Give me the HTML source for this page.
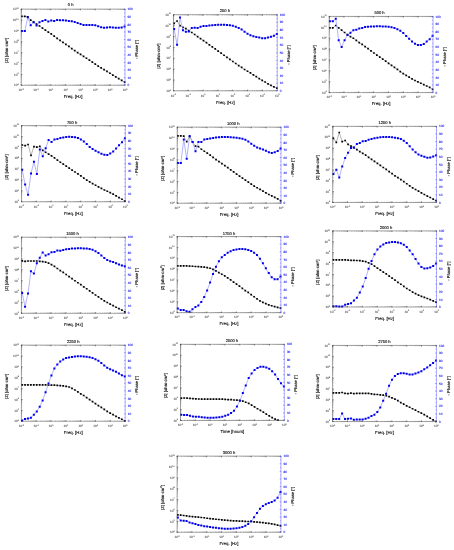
<!DOCTYPE html><html><head><meta charset="utf-8"><style>html,body{margin:0;padding:0;background:#fff;}svg{display:block;text-rendering:geometricPrecision;will-change:transform;}#w{width:454px;height:550px;overflow:hidden;}</style></head><body><div id="w"><svg width="454" height="550" viewBox="0 0 454 550" font-family='"Liberation Sans", sans-serif'>
<rect width="454" height="550" fill="#fff"/>
<polyline fill="none" stroke="#777" stroke-width="0.55" points="21.9,16.3 24.83,16.34 27.77,16.89 30.7,20.17 33.64,22.06 36.57,24.08 39.51,25.98 42.44,28.06 45.37,30.08 48.31,32.07 51.24,33.96 54.18,36.18 57.11,38.38 60.05,40.36 62.98,42.42 65.91,44.44 68.85,46.46 71.78,48.61 74.72,50.64 77.65,52.72 80.59,54.37 83.52,56.28 86.45,58.23 89.39,60.18 92.32,62.14 95.26,64.09 98.19,66.06 101.13,67.93 104.06,69.7 106.99,71.46 109.93,73.27 112.86,75.18 115.8,76.79 118.73,78.66 121.67,80.35 124.6,82.14"/>
<path d="M21.05 15.45h1.7v1.7h-1.7zM23.98 15.49h1.7v1.7h-1.7zM26.92 16.04h1.7v1.7h-1.7zM29.85 19.32h1.7v1.7h-1.7zM32.79 21.21h1.7v1.7h-1.7zM35.72 23.23h1.7v1.7h-1.7zM38.66 25.13h1.7v1.7h-1.7zM41.59 27.21h1.7v1.7h-1.7zM44.52 29.23h1.7v1.7h-1.7zM47.46 31.22h1.7v1.7h-1.7zM50.39 33.11h1.7v1.7h-1.7zM53.33 35.33h1.7v1.7h-1.7zM56.26 37.53h1.7v1.7h-1.7zM59.2 39.51h1.7v1.7h-1.7zM62.13 41.57h1.7v1.7h-1.7zM65.06 43.59h1.7v1.7h-1.7zM68 45.61h1.7v1.7h-1.7zM70.93 47.76h1.7v1.7h-1.7zM73.87 49.79h1.7v1.7h-1.7zM76.8 51.87h1.7v1.7h-1.7zM79.74 53.52h1.7v1.7h-1.7zM82.67 55.43h1.7v1.7h-1.7zM85.6 57.38h1.7v1.7h-1.7zM88.54 59.33h1.7v1.7h-1.7zM91.47 61.29h1.7v1.7h-1.7zM94.41 63.24h1.7v1.7h-1.7zM97.34 65.21h1.7v1.7h-1.7zM100.28 67.08h1.7v1.7h-1.7zM103.21 68.85h1.7v1.7h-1.7zM106.14 70.61h1.7v1.7h-1.7zM109.08 72.42h1.7v1.7h-1.7zM112.01 74.33h1.7v1.7h-1.7zM114.95 75.94h1.7v1.7h-1.7zM117.88 77.81h1.7v1.7h-1.7zM120.82 79.5h1.7v1.7h-1.7zM123.75 81.29h1.7v1.7h-1.7z" fill="#000"/>
<polyline fill="none" stroke="#8c8cff" stroke-width="0.65" points="21.9,31.1 24.83,31.1 27.77,17.3 30.7,25.2 33.64,22.2 36.57,25.4 39.51,22.3 42.44,21 45.37,20.1 48.31,21.5 51.24,20.4 54.18,21 57.11,20.1 60.05,20.3 62.98,20.3 65.91,20.49 68.85,20.99 71.78,21.29 74.72,21.98 77.65,23.01 80.59,23.88 83.52,24.97 86.45,25 89.39,25 92.32,25 95.26,25.37 98.19,26.24 101.13,27.3 104.06,27.77 106.99,27.61 109.93,27.24 112.86,27.38 115.8,27.77 118.73,27.8 121.67,27.43 124.6,26.6"/>
<path d="M20.9 30.1h2v2h-2zM23.83 30.1h2v2h-2zM26.77 16.3h2v2h-2zM29.7 24.2h2v2h-2zM32.64 21.2h2v2h-2zM35.57 24.4h2v2h-2zM38.51 21.3h2v2h-2zM41.44 20h2v2h-2zM44.37 19.1h2v2h-2zM47.31 20.5h2v2h-2zM50.24 19.4h2v2h-2zM53.18 20h2v2h-2zM56.11 19.1h2v2h-2zM59.05 19.3h2v2h-2zM61.98 19.3h2v2h-2zM64.91 19.49h2v2h-2zM67.85 19.99h2v2h-2zM70.78 20.29h2v2h-2zM73.72 20.98h2v2h-2zM76.65 22.01h2v2h-2zM79.59 22.88h2v2h-2zM82.52 23.97h2v2h-2zM85.45 24h2v2h-2zM88.39 24h2v2h-2zM91.32 24h2v2h-2zM94.26 24.37h2v2h-2zM97.19 25.24h2v2h-2zM100.13 26.3h2v2h-2zM103.06 26.77h2v2h-2zM105.99 26.61h2v2h-2zM108.93 26.24h2v2h-2zM111.86 26.38h2v2h-2zM114.8 26.77h2v2h-2zM117.73 26.8h2v2h-2zM120.67 26.43h2v2h-2zM123.6 25.6h2v2h-2z" fill="#0000ee"/>
<path d="M21.2 85.28V9.12H125M21.2 85.28H125" fill="none" stroke="#4a4a4a" stroke-width="0.5"/>
<path d="M125 9.12V85.28" fill="none" stroke="#5555ff" stroke-width="0.5"/>
<path d="M25.66 85.28v-0.7M25.66 9.12v0.7M28.28 85.28v-0.7M28.28 9.12v0.7M30.13 85.28v-0.7M30.13 9.12v0.7M31.56 85.28v-0.7M31.56 9.12v0.7M32.74 85.28v-0.7M32.74 9.12v0.7M33.73 85.28v-0.7M33.73 9.12v0.7M34.59 85.28v-0.7M34.59 9.12v0.7M35.35 85.28v-0.7M35.35 9.12v0.7M40.49 85.28v-0.7M40.49 9.12v0.7M43.1 85.28v-0.7M43.1 9.12v0.7M44.96 85.28v-0.7M44.96 9.12v0.7M46.39 85.28v-0.7M46.39 9.12v0.7M47.57 85.28v-0.7M47.57 9.12v0.7M48.56 85.28v-0.7M48.56 9.12v0.7M49.42 85.28v-0.7M49.42 9.12v0.7M50.18 85.28v-0.7M50.18 9.12v0.7M55.32 85.28v-0.7M55.32 9.12v0.7M57.93 85.28v-0.7M57.93 9.12v0.7M59.78 85.28v-0.7M59.78 9.12v0.7M61.22 85.28v-0.7M61.22 9.12v0.7M62.4 85.28v-0.7M62.4 9.12v0.7M63.39 85.28v-0.7M63.39 9.12v0.7M64.25 85.28v-0.7M64.25 9.12v0.7M65.01 85.28v-0.7M65.01 9.12v0.7M70.15 85.28v-0.7M70.15 9.12v0.7M72.76 85.28v-0.7M72.76 9.12v0.7M74.61 85.28v-0.7M74.61 9.12v0.7M76.05 85.28v-0.7M76.05 9.12v0.7M77.22 85.28v-0.7M77.22 9.12v0.7M78.22 85.28v-0.7M78.22 9.12v0.7M79.08 85.28v-0.7M79.08 9.12v0.7M79.84 85.28v-0.7M79.84 9.12v0.7M84.98 85.28v-0.7M84.98 9.12v0.7M87.59 85.28v-0.7M87.59 9.12v0.7M89.44 85.28v-0.7M89.44 9.12v0.7M90.88 85.28v-0.7M90.88 9.12v0.7M92.05 85.28v-0.7M92.05 9.12v0.7M93.05 85.28v-0.7M93.05 9.12v0.7M93.91 85.28v-0.7M93.91 9.12v0.7M94.66 85.28v-0.7M94.66 9.12v0.7M99.81 85.28v-0.7M99.81 9.12v0.7M102.42 85.28v-0.7M102.42 9.12v0.7M104.27 85.28v-0.7M104.27 9.12v0.7M105.71 85.28v-0.7M105.71 9.12v0.7M106.88 85.28v-0.7M106.88 9.12v0.7M107.87 85.28v-0.7M107.87 9.12v0.7M108.73 85.28v-0.7M108.73 9.12v0.7M109.49 85.28v-0.7M109.49 9.12v0.7M114.64 85.28v-0.7M114.64 9.12v0.7M117.25 85.28v-0.7M117.25 9.12v0.7M119.1 85.28v-0.7M119.1 9.12v0.7M120.54 85.28v-0.7M120.54 9.12v0.7M121.71 85.28v-0.7M121.71 9.12v0.7M122.7 85.28v-0.7M122.7 9.12v0.7M123.56 85.28v-0.7M123.56 9.12v0.7M124.32 85.28v-0.7M124.32 9.12v0.7M21.2 16.73h0.7M21.2 14.81h0.7M21.2 13.45h0.7M21.2 12.4h0.7M21.2 11.54h0.7M21.2 10.81h0.7M21.2 10.18h0.7M21.2 9.62h0.7M21.2 27.61h0.7M21.2 25.69h0.7M21.2 24.33h0.7M21.2 23.28h0.7M21.2 22.42h0.7M21.2 21.69h0.7M21.2 21.06h0.7M21.2 20.5h0.7M21.2 38.49h0.7M21.2 36.57h0.7M21.2 35.21h0.7M21.2 34.16h0.7M21.2 33.3h0.7M21.2 32.57h0.7M21.2 31.94h0.7M21.2 31.38h0.7M21.2 49.36h0.7M21.2 47.45h0.7M21.2 46.09h0.7M21.2 45.04h0.7M21.2 44.17h0.7M21.2 43.45h0.7M21.2 42.81h0.7M21.2 42.26h0.7M21.2 60.24h0.7M21.2 58.33h0.7M21.2 56.97h0.7M21.2 55.91h0.7M21.2 55.05h0.7M21.2 54.32h0.7M21.2 53.69h0.7M21.2 53.14h0.7M21.2 71.12h0.7M21.2 69.21h0.7M21.2 67.85h0.7M21.2 66.79h0.7M21.2 65.93h0.7M21.2 65.2h0.7M21.2 64.57h0.7M21.2 64.02h0.7M21.2 82h0.7M21.2 80.08h0.7M21.2 78.73h0.7M21.2 77.67h0.7M21.2 76.81h0.7M21.2 76.08h0.7M21.2 75.45h0.7M21.2 74.89h0.7" fill="none" stroke="#444" stroke-width="0.35"/>
<path d="M21.2 85.58v-1.5M21.2 8.82v1.5M36.03 85.58v-1.5M36.03 8.82v1.5M50.86 85.58v-1.5M50.86 8.82v1.5M65.69 85.58v-1.5M65.69 8.82v1.5M80.51 85.58v-1.5M80.51 8.82v1.5M95.34 85.58v-1.5M95.34 8.82v1.5M110.17 85.58v-1.5M110.17 8.82v1.5M125 85.58v-1.5M125 8.82v1.5M20.9 9.12h1.5M20.9 20h1.5M20.9 30.88h1.5M20.9 41.76h1.5M20.9 52.64h1.5M20.9 63.52h1.5M20.9 74.4h1.5M20.9 85.28h1.5" fill="none" stroke="#333" stroke-width="0.55"/>
<path d="M125.3 9.12h-1.5M125 12.93h-0.7M125.3 16.74h-1.5M125 20.55h-0.7M125.3 24.36h-1.5M125 28.16h-0.7M125.3 31.97h-1.5M125 35.78h-0.7M125.3 39.59h-1.5M125 43.39h-0.7M125.3 47.2h-1.5M125 51.01h-0.7M125.3 54.82h-1.5M125 58.62h-0.7M125.3 62.43h-1.5M125 66.24h-0.7M125.3 70.05h-1.5M125 73.85h-0.7M125.3 77.66h-1.5M125 81.47h-0.7M125.3 85.28h-1.5" fill="none" stroke="#4444ff" stroke-width="0.5"/>
<g fill="#444" stroke="#444" stroke-width="0.06"><text x="18.7" y="10.32" text-anchor="end" font-size="3.1">10<tspan font-size="2.11" dy="-1.5">11</tspan></text><text x="18.7" y="21.2" text-anchor="end" font-size="3.1">10<tspan font-size="2.11" dy="-1.5">10</tspan></text><text x="18.7" y="32.08" text-anchor="end" font-size="3.1">10<tspan font-size="2.11" dy="-1.5">9</tspan></text><text x="18.7" y="42.96" text-anchor="end" font-size="3.1">10<tspan font-size="2.11" dy="-1.5">8</tspan></text><text x="18.7" y="53.84" text-anchor="end" font-size="3.1">10<tspan font-size="2.11" dy="-1.5">7</tspan></text><text x="18.7" y="64.72" text-anchor="end" font-size="3.1">10<tspan font-size="2.11" dy="-1.5">6</tspan></text><text x="18.7" y="75.6" text-anchor="end" font-size="3.1">10<tspan font-size="2.11" dy="-1.5">5</tspan></text><text x="18.7" y="86.48" text-anchor="end" font-size="3.1">10<tspan font-size="2.11" dy="-1.5">4</tspan></text><text x="21.2" y="91.08" text-anchor="middle" font-size="3.1">10<tspan font-size="2.11" dy="-1.5">-2</tspan></text><text x="36.03" y="91.08" text-anchor="middle" font-size="3.1">10<tspan font-size="2.11" dy="-1.5">-1</tspan></text><text x="50.86" y="91.08" text-anchor="middle" font-size="3.1">10<tspan font-size="2.11" dy="-1.5">0</tspan></text><text x="65.69" y="91.08" text-anchor="middle" font-size="3.1">10<tspan font-size="2.11" dy="-1.5">1</tspan></text><text x="80.51" y="91.08" text-anchor="middle" font-size="3.1">10<tspan font-size="2.11" dy="-1.5">2</tspan></text><text x="95.34" y="91.08" text-anchor="middle" font-size="3.1">10<tspan font-size="2.11" dy="-1.5">3</tspan></text><text x="110.17" y="91.08" text-anchor="middle" font-size="3.1">10<tspan font-size="2.11" dy="-1.5">4</tspan></text><text x="125" y="91.08" text-anchor="middle" font-size="3.1">10<tspan font-size="2.11" dy="-1.5">5</tspan></text></g>
<g fill="#2222ee" stroke="#2222ee" stroke-width="0.1"><text x="127.6" y="10.28" font-size="3.1">100</text><text x="127.6" y="17.89" font-size="3.1">90</text><text x="127.6" y="25.5" font-size="3.1">80</text><text x="127.6" y="33.12" font-size="3.1">70</text><text x="127.6" y="40.73" font-size="3.1">60</text><text x="127.6" y="48.35" font-size="3.1">50</text><text x="127.6" y="55.97" font-size="3.1">40</text><text x="127.6" y="63.58" font-size="3.1">30</text><text x="127.6" y="71.2" font-size="3.1">20</text><text x="127.6" y="78.81" font-size="3.1">10</text><text x="127.6" y="86.43" font-size="3.1">0</text></g>
<text x="70.6" y="5.88" text-anchor="middle" font-size="4.1" fill="#111" stroke="#111" stroke-width="0.13">0 h</text>
<text x="73.1" y="98.08" text-anchor="middle" font-size="4.3" fill="#111" stroke="#111" stroke-width="0.13">Freq. [Hz]</text>
<text transform="translate(7.9 50.4) rotate(-90)" text-anchor="middle" font-size="4.2" fill="#111" stroke="#111" stroke-width="0.13">|Z| [ohm·cm<tspan font-size="2.9" dy="-1.4">2</tspan><tspan dy="1.4">]</tspan></text>
<text transform="translate(138.1 49.5) rotate(-90)" text-anchor="middle" font-size="4.1" fill="#111" stroke="#111" stroke-width="0.13">- Phase [°]</text>
<polyline fill="none" stroke="#777" stroke-width="0.55" points="174.15,23.3 177.08,21 180.02,25.7 182.95,27.4 185.89,28.6 188.82,30.58 191.76,32.51 194.69,34.49 197.62,36.59 200.56,38.7 203.49,40.6 206.43,42.66 209.36,44.79 212.3,46.93 215.23,48.92 218.16,51.07 221.1,53.13 224.03,55.25 226.97,57.28 229.9,59.43 232.84,61.49 235.77,63.51 238.7,65.53 241.64,67.46 244.57,69.48 247.51,71.24 250.44,72.97 253.38,74.92 256.31,76.72 259.24,78.66 262.18,80.41 265.11,81.99 268.05,83.81 270.98,85.47 273.92,86.83 276.85,88.1"/>
<path d="M173.3 22.45h1.7v1.7h-1.7zM176.23 20.15h1.7v1.7h-1.7zM179.17 24.85h1.7v1.7h-1.7zM182.1 26.55h1.7v1.7h-1.7zM185.04 27.75h1.7v1.7h-1.7zM187.97 29.73h1.7v1.7h-1.7zM190.91 31.66h1.7v1.7h-1.7zM193.84 33.64h1.7v1.7h-1.7zM196.77 35.74h1.7v1.7h-1.7zM199.71 37.85h1.7v1.7h-1.7zM202.64 39.75h1.7v1.7h-1.7zM205.58 41.81h1.7v1.7h-1.7zM208.51 43.94h1.7v1.7h-1.7zM211.45 46.08h1.7v1.7h-1.7zM214.38 48.07h1.7v1.7h-1.7zM217.31 50.22h1.7v1.7h-1.7zM220.25 52.28h1.7v1.7h-1.7zM223.18 54.4h1.7v1.7h-1.7zM226.12 56.43h1.7v1.7h-1.7zM229.05 58.58h1.7v1.7h-1.7zM231.99 60.64h1.7v1.7h-1.7zM234.92 62.66h1.7v1.7h-1.7zM237.85 64.68h1.7v1.7h-1.7zM240.79 66.61h1.7v1.7h-1.7zM243.72 68.63h1.7v1.7h-1.7zM246.66 70.39h1.7v1.7h-1.7zM249.59 72.12h1.7v1.7h-1.7zM252.53 74.07h1.7v1.7h-1.7zM255.46 75.87h1.7v1.7h-1.7zM258.39 77.81h1.7v1.7h-1.7zM261.33 79.56h1.7v1.7h-1.7zM264.26 81.14h1.7v1.7h-1.7zM267.2 82.96h1.7v1.7h-1.7zM270.13 84.62h1.7v1.7h-1.7zM273.07 85.98h1.7v1.7h-1.7zM276 87.25h1.7v1.7h-1.7z" fill="#000"/>
<polyline fill="none" stroke="#8c8cff" stroke-width="0.65" points="174.15,28.9 177.08,44.8 180.02,17.5 182.95,30.3 185.89,31.8 188.82,31.6 191.76,28 194.69,27.7 197.62,27.9 200.56,26.8 203.49,26.1 206.43,26.1 209.36,25.48 212.3,25.28 215.23,25 218.16,24.8 221.1,24.8 224.03,24.8 226.97,25 229.9,25.29 232.84,25.87 235.77,26.76 238.7,27.96 241.64,29.47 244.57,31.68 247.51,33.64 250.44,35.37 253.38,36.36 256.31,36.94 259.24,37.62 262.18,38.23 265.11,38.13 268.05,37.42 270.98,36.87 273.92,35.85 276.85,34.1"/>
<path d="M173.15 27.9h2v2h-2zM176.08 43.8h2v2h-2zM179.02 16.5h2v2h-2zM181.95 29.3h2v2h-2zM184.89 30.8h2v2h-2zM187.82 30.6h2v2h-2zM190.76 27h2v2h-2zM193.69 26.7h2v2h-2zM196.62 26.9h2v2h-2zM199.56 25.8h2v2h-2zM202.49 25.1h2v2h-2zM205.43 25.1h2v2h-2zM208.36 24.48h2v2h-2zM211.3 24.28h2v2h-2zM214.23 24h2v2h-2zM217.16 23.8h2v2h-2zM220.1 23.8h2v2h-2zM223.03 23.8h2v2h-2zM225.97 24h2v2h-2zM228.9 24.29h2v2h-2zM231.84 24.87h2v2h-2zM234.77 25.76h2v2h-2zM237.7 26.96h2v2h-2zM240.64 28.47h2v2h-2zM243.57 30.68h2v2h-2zM246.51 32.64h2v2h-2zM249.44 34.37h2v2h-2zM252.38 35.36h2v2h-2zM255.31 35.94h2v2h-2zM258.24 36.62h2v2h-2zM261.18 37.23h2v2h-2zM264.11 37.13h2v2h-2zM267.05 36.42h2v2h-2zM269.98 35.87h2v2h-2zM272.92 34.85h2v2h-2zM275.85 33.1h2v2h-2z" fill="#0000ee"/>
<path d="M173.45 90.83V14.68H277.25M173.45 90.83H277.25" fill="none" stroke="#4a4a4a" stroke-width="0.5"/>
<path d="M277.25 14.68V90.83" fill="none" stroke="#5555ff" stroke-width="0.5"/>
<path d="M177.91 90.83v-0.7M177.91 14.68v0.7M180.53 90.83v-0.7M180.53 14.68v0.7M182.38 90.83v-0.7M182.38 14.68v0.7M183.81 90.83v-0.7M183.81 14.68v0.7M184.99 90.83v-0.7M184.99 14.68v0.7M185.98 90.83v-0.7M185.98 14.68v0.7M186.84 90.83v-0.7M186.84 14.68v0.7M187.6 90.83v-0.7M187.6 14.68v0.7M192.74 90.83v-0.7M192.74 14.68v0.7M195.35 90.83v-0.7M195.35 14.68v0.7M197.21 90.83v-0.7M197.21 14.68v0.7M198.64 90.83v-0.7M198.64 14.68v0.7M199.82 90.83v-0.7M199.82 14.68v0.7M200.81 90.83v-0.7M200.81 14.68v0.7M201.67 90.83v-0.7M201.67 14.68v0.7M202.43 90.83v-0.7M202.43 14.68v0.7M207.57 90.83v-0.7M207.57 14.68v0.7M210.18 90.83v-0.7M210.18 14.68v0.7M212.03 90.83v-0.7M212.03 14.68v0.7M213.47 90.83v-0.7M213.47 14.68v0.7M214.65 90.83v-0.7M214.65 14.68v0.7M215.64 90.83v-0.7M215.64 14.68v0.7M216.5 90.83v-0.7M216.5 14.68v0.7M217.26 90.83v-0.7M217.26 14.68v0.7M222.4 90.83v-0.7M222.4 14.68v0.7M225.01 90.83v-0.7M225.01 14.68v0.7M226.86 90.83v-0.7M226.86 14.68v0.7M228.3 90.83v-0.7M228.3 14.68v0.7M229.47 90.83v-0.7M229.47 14.68v0.7M230.47 90.83v-0.7M230.47 14.68v0.7M231.33 90.83v-0.7M231.33 14.68v0.7M232.09 90.83v-0.7M232.09 14.68v0.7M237.23 90.83v-0.7M237.23 14.68v0.7M239.84 90.83v-0.7M239.84 14.68v0.7M241.69 90.83v-0.7M241.69 14.68v0.7M243.13 90.83v-0.7M243.13 14.68v0.7M244.3 90.83v-0.7M244.3 14.68v0.7M245.3 90.83v-0.7M245.3 14.68v0.7M246.16 90.83v-0.7M246.16 14.68v0.7M246.91 90.83v-0.7M246.91 14.68v0.7M252.06 90.83v-0.7M252.06 14.68v0.7M254.67 90.83v-0.7M254.67 14.68v0.7M256.52 90.83v-0.7M256.52 14.68v0.7M257.96 90.83v-0.7M257.96 14.68v0.7M259.13 90.83v-0.7M259.13 14.68v0.7M260.12 90.83v-0.7M260.12 14.68v0.7M260.98 90.83v-0.7M260.98 14.68v0.7M261.74 90.83v-0.7M261.74 14.68v0.7M266.89 90.83v-0.7M266.89 14.68v0.7M269.5 90.83v-0.7M269.5 14.68v0.7M271.35 90.83v-0.7M271.35 14.68v0.7M272.79 90.83v-0.7M272.79 14.68v0.7M273.96 90.83v-0.7M273.96 14.68v0.7M274.95 90.83v-0.7M274.95 14.68v0.7M275.81 90.83v-0.7M275.81 14.68v0.7M276.57 90.83v-0.7M276.57 14.68v0.7M173.45 22.28h0.7M173.45 20.36h0.7M173.45 19h0.7M173.45 17.95h0.7M173.45 17.09h0.7M173.45 16.36h0.7M173.45 15.73h0.7M173.45 15.17h0.7M173.45 33.16h0.7M173.45 31.24h0.7M173.45 29.88h0.7M173.45 28.83h0.7M173.45 27.97h0.7M173.45 27.24h0.7M173.45 26.61h0.7M173.45 26.05h0.7M173.45 44.04h0.7M173.45 42.12h0.7M173.45 40.76h0.7M173.45 39.71h0.7M173.45 38.85h0.7M173.45 38.12h0.7M173.45 37.49h0.7M173.45 36.93h0.7M173.45 54.91h0.7M173.45 53h0.7M173.45 51.64h0.7M173.45 50.59h0.7M173.45 49.72h0.7M173.45 49h0.7M173.45 48.36h0.7M173.45 47.81h0.7M173.45 65.79h0.7M173.45 63.88h0.7M173.45 62.52h0.7M173.45 61.46h0.7M173.45 60.6h0.7M173.45 59.87h0.7M173.45 59.24h0.7M173.45 58.69h0.7M173.45 76.67h0.7M173.45 74.76h0.7M173.45 73.4h0.7M173.45 72.34h0.7M173.45 71.48h0.7M173.45 70.75h0.7M173.45 70.12h0.7M173.45 69.57h0.7M173.45 87.55h0.7M173.45 85.63h0.7M173.45 84.28h0.7M173.45 83.22h0.7M173.45 82.36h0.7M173.45 81.63h0.7M173.45 81h0.7M173.45 80.44h0.7" fill="none" stroke="#444" stroke-width="0.35"/>
<path d="M173.45 91.12v-1.5M173.45 14.38v1.5M188.28 91.12v-1.5M188.28 14.38v1.5M203.11 91.12v-1.5M203.11 14.38v1.5M217.94 91.12v-1.5M217.94 14.38v1.5M232.76 91.12v-1.5M232.76 14.38v1.5M247.59 91.12v-1.5M247.59 14.38v1.5M262.42 91.12v-1.5M262.42 14.38v1.5M277.25 91.12v-1.5M277.25 14.38v1.5M173.15 14.68h1.5M173.15 25.55h1.5M173.15 36.43h1.5M173.15 47.31h1.5M173.15 58.19h1.5M173.15 69.07h1.5M173.15 79.95h1.5M173.15 90.83h1.5" fill="none" stroke="#333" stroke-width="0.55"/>
<path d="M277.55 14.68h-1.5M277.25 18.48h-0.7M277.55 22.29h-1.5M277.25 26.1h-0.7M277.55 29.91h-1.5M277.25 33.71h-0.7M277.55 37.52h-1.5M277.25 41.33h-0.7M277.55 45.14h-1.5M277.25 48.94h-0.7M277.55 52.75h-1.5M277.25 56.56h-0.7M277.55 60.37h-1.5M277.25 64.17h-0.7M277.55 67.98h-1.5M277.25 71.79h-0.7M277.55 75.59h-1.5M277.25 79.4h-0.7M277.55 83.21h-1.5M277.25 87.02h-0.7M277.55 90.83h-1.5" fill="none" stroke="#4444ff" stroke-width="0.5"/>
<g fill="#444" stroke="#444" stroke-width="0.06"><text x="170.95" y="15.88" text-anchor="end" font-size="3.1">10<tspan font-size="2.11" dy="-1.5">11</tspan></text><text x="170.95" y="26.75" text-anchor="end" font-size="3.1">10<tspan font-size="2.11" dy="-1.5">10</tspan></text><text x="170.95" y="37.63" text-anchor="end" font-size="3.1">10<tspan font-size="2.11" dy="-1.5">9</tspan></text><text x="170.95" y="48.51" text-anchor="end" font-size="3.1">10<tspan font-size="2.11" dy="-1.5">8</tspan></text><text x="170.95" y="59.39" text-anchor="end" font-size="3.1">10<tspan font-size="2.11" dy="-1.5">7</tspan></text><text x="170.95" y="70.27" text-anchor="end" font-size="3.1">10<tspan font-size="2.11" dy="-1.5">6</tspan></text><text x="170.95" y="81.15" text-anchor="end" font-size="3.1">10<tspan font-size="2.11" dy="-1.5">5</tspan></text><text x="170.95" y="92.03" text-anchor="end" font-size="3.1">10<tspan font-size="2.11" dy="-1.5">4</tspan></text><text x="173.45" y="96.62" text-anchor="middle" font-size="3.1">10<tspan font-size="2.11" dy="-1.5">-2</tspan></text><text x="188.28" y="96.62" text-anchor="middle" font-size="3.1">10<tspan font-size="2.11" dy="-1.5">-1</tspan></text><text x="203.11" y="96.62" text-anchor="middle" font-size="3.1">10<tspan font-size="2.11" dy="-1.5">0</tspan></text><text x="217.94" y="96.62" text-anchor="middle" font-size="3.1">10<tspan font-size="2.11" dy="-1.5">1</tspan></text><text x="232.76" y="96.62" text-anchor="middle" font-size="3.1">10<tspan font-size="2.11" dy="-1.5">2</tspan></text><text x="247.59" y="96.62" text-anchor="middle" font-size="3.1">10<tspan font-size="2.11" dy="-1.5">3</tspan></text><text x="262.42" y="96.62" text-anchor="middle" font-size="3.1">10<tspan font-size="2.11" dy="-1.5">4</tspan></text><text x="277.25" y="96.62" text-anchor="middle" font-size="3.1">10<tspan font-size="2.11" dy="-1.5">5</tspan></text></g>
<g fill="#2222ee" stroke="#2222ee" stroke-width="0.1"><text x="279.85" y="15.83" font-size="3.1">100</text><text x="279.85" y="23.44" font-size="3.1">90</text><text x="279.85" y="31.05" font-size="3.1">80</text><text x="279.85" y="38.67" font-size="3.1">70</text><text x="279.85" y="46.29" font-size="3.1">60</text><text x="279.85" y="53.9" font-size="3.1">50</text><text x="279.85" y="61.52" font-size="3.1">40</text><text x="279.85" y="69.13" font-size="3.1">30</text><text x="279.85" y="76.75" font-size="3.1">20</text><text x="279.85" y="84.36" font-size="3.1">10</text><text x="279.85" y="91.98" font-size="3.1">0</text></g>
<text x="224.9" y="12.08" text-anchor="middle" font-size="4.1" fill="#111" stroke="#111" stroke-width="0.13">250 h</text>
<text x="225.35" y="103.62" text-anchor="middle" font-size="4.3" fill="#111" stroke="#111" stroke-width="0.13">Freq. [Hz]</text>
<text transform="translate(160.15 55.95) rotate(-90)" text-anchor="middle" font-size="4.2" fill="#111" stroke="#111" stroke-width="0.13">|Z| [ohm·cm<tspan font-size="2.9" dy="-1.4">2</tspan><tspan dy="1.4">]</tspan></text>
<text transform="translate(290.35 55.05) rotate(-90)" text-anchor="middle" font-size="4.1" fill="#111" stroke="#111" stroke-width="0.13">- Phase [°]</text>
<polyline fill="none" stroke="#777" stroke-width="0.55" points="329.9,27.9 332.83,27.9 335.77,25.5 338.7,27.9 341.64,30.19 344.57,32.49 347.51,34.55 350.44,36.63 353.37,38.26 356.31,40.45 359.24,42.55 362.18,44.34 365.11,46.58 368.05,48.64 370.98,50.96 373.91,52.98 376.85,55.03 379.78,57.09 382.72,59.11 385.65,61.22 388.59,63.28 391.52,65.31 394.45,67.33 397.39,69.45 400.32,71.69 403.26,73.64 406.19,75.47 409.13,77.14 412.06,78.95 414.99,80.49 417.93,81.87 420.86,83.25 423.8,84.7 426.73,85.98 429.67,87.43 432.6,89.3"/>
<path d="M329.05 27.05h1.7v1.7h-1.7zM331.98 27.05h1.7v1.7h-1.7zM334.92 24.65h1.7v1.7h-1.7zM337.85 27.05h1.7v1.7h-1.7zM340.79 29.34h1.7v1.7h-1.7zM343.72 31.64h1.7v1.7h-1.7zM346.66 33.7h1.7v1.7h-1.7zM349.59 35.78h1.7v1.7h-1.7zM352.52 37.41h1.7v1.7h-1.7zM355.46 39.6h1.7v1.7h-1.7zM358.39 41.7h1.7v1.7h-1.7zM361.33 43.49h1.7v1.7h-1.7zM364.26 45.73h1.7v1.7h-1.7zM367.2 47.79h1.7v1.7h-1.7zM370.13 50.11h1.7v1.7h-1.7zM373.06 52.13h1.7v1.7h-1.7zM376 54.18h1.7v1.7h-1.7zM378.93 56.24h1.7v1.7h-1.7zM381.87 58.26h1.7v1.7h-1.7zM384.8 60.37h1.7v1.7h-1.7zM387.74 62.43h1.7v1.7h-1.7zM390.67 64.46h1.7v1.7h-1.7zM393.6 66.48h1.7v1.7h-1.7zM396.54 68.6h1.7v1.7h-1.7zM399.47 70.84h1.7v1.7h-1.7zM402.41 72.79h1.7v1.7h-1.7zM405.34 74.62h1.7v1.7h-1.7zM408.28 76.29h1.7v1.7h-1.7zM411.21 78.1h1.7v1.7h-1.7zM414.14 79.64h1.7v1.7h-1.7zM417.08 81.02h1.7v1.7h-1.7zM420.01 82.4h1.7v1.7h-1.7zM422.95 83.85h1.7v1.7h-1.7zM425.88 85.13h1.7v1.7h-1.7zM428.82 86.58h1.7v1.7h-1.7zM431.75 88.45h1.7v1.7h-1.7z" fill="#000"/>
<polyline fill="none" stroke="#8c8cff" stroke-width="0.65" points="329.9,21.2 332.83,21.2 335.77,18.8 338.7,40.3 341.64,47 344.57,40.3 347.51,35 350.44,32.7 353.37,30.3 356.31,29.7 359.24,28.5 362.18,27.9 365.11,27.09 368.05,26.8 370.98,26.5 373.91,26.39 376.85,26.2 379.78,26.2 382.72,26.4 385.65,26.49 388.59,26.77 391.52,27.25 394.45,28.12 397.39,29.22 400.32,30.84 403.26,33.02 406.19,35.89 409.13,38.73 412.06,41.38 414.99,43.69 417.93,44.99 420.86,45.1 423.8,43.9 426.73,41.53 429.67,39.13 432.6,35.65"/>
<path d="M328.9 20.2h2v2h-2zM331.83 20.2h2v2h-2zM334.77 17.8h2v2h-2zM337.7 39.3h2v2h-2zM340.64 46h2v2h-2zM343.57 39.3h2v2h-2zM346.51 34h2v2h-2zM349.44 31.7h2v2h-2zM352.37 29.3h2v2h-2zM355.31 28.7h2v2h-2zM358.24 27.5h2v2h-2zM361.18 26.9h2v2h-2zM364.11 26.09h2v2h-2zM367.05 25.8h2v2h-2zM369.98 25.5h2v2h-2zM372.91 25.39h2v2h-2zM375.85 25.2h2v2h-2zM378.78 25.2h2v2h-2zM381.72 25.4h2v2h-2zM384.65 25.49h2v2h-2zM387.59 25.77h2v2h-2zM390.52 26.25h2v2h-2zM393.45 27.12h2v2h-2zM396.39 28.22h2v2h-2zM399.32 29.84h2v2h-2zM402.26 32.02h2v2h-2zM405.19 34.89h2v2h-2zM408.13 37.73h2v2h-2zM411.06 40.38h2v2h-2zM413.99 42.69h2v2h-2zM416.93 43.99h2v2h-2zM419.86 44.1h2v2h-2zM422.8 42.9h2v2h-2zM425.73 40.53h2v2h-2zM428.67 38.13h2v2h-2zM431.6 34.65h2v2h-2z" fill="#0000ee"/>
<path d="M329.2 92.58V16.43H433M329.2 92.58H433" fill="none" stroke="#4a4a4a" stroke-width="0.5"/>
<path d="M433 16.43V92.58" fill="none" stroke="#5555ff" stroke-width="0.5"/>
<path d="M333.66 92.58v-0.7M333.66 16.43v0.7M336.28 92.58v-0.7M336.28 16.43v0.7M338.13 92.58v-0.7M338.13 16.43v0.7M339.56 92.58v-0.7M339.56 16.43v0.7M340.74 92.58v-0.7M340.74 16.43v0.7M341.73 92.58v-0.7M341.73 16.43v0.7M342.59 92.58v-0.7M342.59 16.43v0.7M343.35 92.58v-0.7M343.35 16.43v0.7M348.49 92.58v-0.7M348.49 16.43v0.7M351.1 92.58v-0.7M351.1 16.43v0.7M352.96 92.58v-0.7M352.96 16.43v0.7M354.39 92.58v-0.7M354.39 16.43v0.7M355.57 92.58v-0.7M355.57 16.43v0.7M356.56 92.58v-0.7M356.56 16.43v0.7M357.42 92.58v-0.7M357.42 16.43v0.7M358.18 92.58v-0.7M358.18 16.43v0.7M363.32 92.58v-0.7M363.32 16.43v0.7M365.93 92.58v-0.7M365.93 16.43v0.7M367.78 92.58v-0.7M367.78 16.43v0.7M369.22 92.58v-0.7M369.22 16.43v0.7M370.4 92.58v-0.7M370.4 16.43v0.7M371.39 92.58v-0.7M371.39 16.43v0.7M372.25 92.58v-0.7M372.25 16.43v0.7M373.01 92.58v-0.7M373.01 16.43v0.7M378.15 92.58v-0.7M378.15 16.43v0.7M380.76 92.58v-0.7M380.76 16.43v0.7M382.61 92.58v-0.7M382.61 16.43v0.7M384.05 92.58v-0.7M384.05 16.43v0.7M385.22 92.58v-0.7M385.22 16.43v0.7M386.22 92.58v-0.7M386.22 16.43v0.7M387.08 92.58v-0.7M387.08 16.43v0.7M387.84 92.58v-0.7M387.84 16.43v0.7M392.98 92.58v-0.7M392.98 16.43v0.7M395.59 92.58v-0.7M395.59 16.43v0.7M397.44 92.58v-0.7M397.44 16.43v0.7M398.88 92.58v-0.7M398.88 16.43v0.7M400.05 92.58v-0.7M400.05 16.43v0.7M401.05 92.58v-0.7M401.05 16.43v0.7M401.91 92.58v-0.7M401.91 16.43v0.7M402.66 92.58v-0.7M402.66 16.43v0.7M407.81 92.58v-0.7M407.81 16.43v0.7M410.42 92.58v-0.7M410.42 16.43v0.7M412.27 92.58v-0.7M412.27 16.43v0.7M413.71 92.58v-0.7M413.71 16.43v0.7M414.88 92.58v-0.7M414.88 16.43v0.7M415.87 92.58v-0.7M415.87 16.43v0.7M416.73 92.58v-0.7M416.73 16.43v0.7M417.49 92.58v-0.7M417.49 16.43v0.7M422.64 92.58v-0.7M422.64 16.43v0.7M425.25 92.58v-0.7M425.25 16.43v0.7M427.1 92.58v-0.7M427.1 16.43v0.7M428.54 92.58v-0.7M428.54 16.43v0.7M429.71 92.58v-0.7M429.71 16.43v0.7M430.7 92.58v-0.7M430.7 16.43v0.7M431.56 92.58v-0.7M431.56 16.43v0.7M432.32 92.58v-0.7M432.32 16.43v0.7M329.2 24.03h0.7M329.2 22.11h0.7M329.2 20.75h0.7M329.2 19.7h0.7M329.2 18.84h0.7M329.2 18.11h0.7M329.2 17.48h0.7M329.2 16.92h0.7M329.2 34.91h0.7M329.2 32.99h0.7M329.2 31.63h0.7M329.2 30.58h0.7M329.2 29.72h0.7M329.2 28.99h0.7M329.2 28.36h0.7M329.2 27.8h0.7M329.2 45.79h0.7M329.2 43.87h0.7M329.2 42.51h0.7M329.2 41.46h0.7M329.2 40.6h0.7M329.2 39.87h0.7M329.2 39.24h0.7M329.2 38.68h0.7M329.2 56.66h0.7M329.2 54.75h0.7M329.2 53.39h0.7M329.2 52.34h0.7M329.2 51.47h0.7M329.2 50.75h0.7M329.2 50.11h0.7M329.2 49.56h0.7M329.2 67.54h0.7M329.2 65.63h0.7M329.2 64.27h0.7M329.2 63.21h0.7M329.2 62.35h0.7M329.2 61.62h0.7M329.2 60.99h0.7M329.2 60.44h0.7M329.2 78.42h0.7M329.2 76.51h0.7M329.2 75.15h0.7M329.2 74.09h0.7M329.2 73.23h0.7M329.2 72.5h0.7M329.2 71.87h0.7M329.2 71.32h0.7M329.2 89.3h0.7M329.2 87.38h0.7M329.2 86.03h0.7M329.2 84.97h0.7M329.2 84.11h0.7M329.2 83.38h0.7M329.2 82.75h0.7M329.2 82.19h0.7" fill="none" stroke="#444" stroke-width="0.35"/>
<path d="M329.2 92.88v-1.5M329.2 16.12v1.5M344.03 92.88v-1.5M344.03 16.12v1.5M358.86 92.88v-1.5M358.86 16.12v1.5M373.69 92.88v-1.5M373.69 16.12v1.5M388.51 92.88v-1.5M388.51 16.12v1.5M403.34 92.88v-1.5M403.34 16.12v1.5M418.17 92.88v-1.5M418.17 16.12v1.5M433 92.88v-1.5M433 16.12v1.5M328.9 16.43h1.5M328.9 27.3h1.5M328.9 38.18h1.5M328.9 49.06h1.5M328.9 59.94h1.5M328.9 70.82h1.5M328.9 81.7h1.5M328.9 92.58h1.5" fill="none" stroke="#333" stroke-width="0.55"/>
<path d="M433.3 16.43h-1.5M433 20.23h-0.7M433.3 24.04h-1.5M433 27.85h-0.7M433.3 31.66h-1.5M433 35.46h-0.7M433.3 39.27h-1.5M433 43.08h-0.7M433.3 46.89h-1.5M433 50.69h-0.7M433.3 54.5h-1.5M433 58.31h-0.7M433.3 62.12h-1.5M433 65.92h-0.7M433.3 69.73h-1.5M433 73.54h-0.7M433.3 77.34h-1.5M433 81.15h-0.7M433.3 84.96h-1.5M433 88.77h-0.7M433.3 92.58h-1.5" fill="none" stroke="#4444ff" stroke-width="0.5"/>
<g fill="#444" stroke="#444" stroke-width="0.06"><text x="326.7" y="17.62" text-anchor="end" font-size="3.1">10<tspan font-size="2.11" dy="-1.5">11</tspan></text><text x="326.7" y="28.5" text-anchor="end" font-size="3.1">10<tspan font-size="2.11" dy="-1.5">10</tspan></text><text x="326.7" y="39.38" text-anchor="end" font-size="3.1">10<tspan font-size="2.11" dy="-1.5">9</tspan></text><text x="326.7" y="50.26" text-anchor="end" font-size="3.1">10<tspan font-size="2.11" dy="-1.5">8</tspan></text><text x="326.7" y="61.14" text-anchor="end" font-size="3.1">10<tspan font-size="2.11" dy="-1.5">7</tspan></text><text x="326.7" y="72.02" text-anchor="end" font-size="3.1">10<tspan font-size="2.11" dy="-1.5">6</tspan></text><text x="326.7" y="82.9" text-anchor="end" font-size="3.1">10<tspan font-size="2.11" dy="-1.5">5</tspan></text><text x="326.7" y="93.78" text-anchor="end" font-size="3.1">10<tspan font-size="2.11" dy="-1.5">4</tspan></text><text x="329.2" y="98.38" text-anchor="middle" font-size="3.1">10<tspan font-size="2.11" dy="-1.5">-2</tspan></text><text x="344.03" y="98.38" text-anchor="middle" font-size="3.1">10<tspan font-size="2.11" dy="-1.5">-1</tspan></text><text x="358.86" y="98.38" text-anchor="middle" font-size="3.1">10<tspan font-size="2.11" dy="-1.5">0</tspan></text><text x="373.69" y="98.38" text-anchor="middle" font-size="3.1">10<tspan font-size="2.11" dy="-1.5">1</tspan></text><text x="388.51" y="98.38" text-anchor="middle" font-size="3.1">10<tspan font-size="2.11" dy="-1.5">2</tspan></text><text x="403.34" y="98.38" text-anchor="middle" font-size="3.1">10<tspan font-size="2.11" dy="-1.5">3</tspan></text><text x="418.17" y="98.38" text-anchor="middle" font-size="3.1">10<tspan font-size="2.11" dy="-1.5">4</tspan></text><text x="433" y="98.38" text-anchor="middle" font-size="3.1">10<tspan font-size="2.11" dy="-1.5">5</tspan></text></g>
<g fill="#2222ee" stroke="#2222ee" stroke-width="0.1"><text x="435.6" y="17.57" font-size="3.1">100</text><text x="435.6" y="25.19" font-size="3.1">90</text><text x="435.6" y="32.8" font-size="3.1">80</text><text x="435.6" y="40.42" font-size="3.1">70</text><text x="435.6" y="48.04" font-size="3.1">60</text><text x="435.6" y="55.65" font-size="3.1">50</text><text x="435.6" y="63.27" font-size="3.1">40</text><text x="435.6" y="70.88" font-size="3.1">30</text><text x="435.6" y="78.5" font-size="3.1">20</text><text x="435.6" y="86.11" font-size="3.1">10</text><text x="435.6" y="93.73" font-size="3.1">0</text></g>
<text x="379.5" y="14.08" text-anchor="middle" font-size="4.1" fill="#111" stroke="#111" stroke-width="0.13">500 h</text>
<text x="381.1" y="105.38" text-anchor="middle" font-size="4.3" fill="#111" stroke="#111" stroke-width="0.13">Freq. [Hz]</text>
<text transform="translate(315.9 57.7) rotate(-90)" text-anchor="middle" font-size="4.2" fill="#111" stroke="#111" stroke-width="0.13">|Z| [ohm·cm<tspan font-size="2.9" dy="-1.4">2</tspan><tspan dy="1.4">]</tspan></text>
<text transform="translate(446.1 56.8) rotate(-90)" text-anchor="middle" font-size="4.1" fill="#111" stroke="#111" stroke-width="0.13">- Phase [°]</text>
<polyline fill="none" stroke="#777" stroke-width="0.55" points="22.2,145 25.13,145.7 28.07,144.5 31,155.4 33.94,146.6 36.87,147.2 39.81,146.3 42.74,150.4 45.67,152.25 48.61,154.17 51.54,155.8 54.48,157.86 57.41,160.06 60.35,162.23 63.28,164.19 66.21,166.14 69.15,168.1 72.08,170.06 75.02,172.01 77.95,173.97 80.89,175.92 83.82,178.16 86.75,180.17 89.69,181.84 92.62,183.59 95.56,185.26 98.49,186.88 101.43,188.45 104.36,189.98 107.29,191.27 110.23,192.67 113.16,194.09 116.1,195.82 119.03,197.63 121.97,199.26 124.9,201.1"/>
<path d="M21.35 144.15h1.7v1.7h-1.7zM24.28 144.85h1.7v1.7h-1.7zM27.22 143.65h1.7v1.7h-1.7zM30.15 154.55h1.7v1.7h-1.7zM33.09 145.75h1.7v1.7h-1.7zM36.02 146.35h1.7v1.7h-1.7zM38.96 145.45h1.7v1.7h-1.7zM41.89 149.55h1.7v1.7h-1.7zM44.82 151.4h1.7v1.7h-1.7zM47.76 153.32h1.7v1.7h-1.7zM50.69 154.95h1.7v1.7h-1.7zM53.63 157.01h1.7v1.7h-1.7zM56.56 159.21h1.7v1.7h-1.7zM59.5 161.38h1.7v1.7h-1.7zM62.43 163.34h1.7v1.7h-1.7zM65.36 165.29h1.7v1.7h-1.7zM68.3 167.25h1.7v1.7h-1.7zM71.23 169.21h1.7v1.7h-1.7zM74.17 171.16h1.7v1.7h-1.7zM77.1 173.12h1.7v1.7h-1.7zM80.04 175.07h1.7v1.7h-1.7zM82.97 177.31h1.7v1.7h-1.7zM85.9 179.32h1.7v1.7h-1.7zM88.84 180.99h1.7v1.7h-1.7zM91.77 182.74h1.7v1.7h-1.7zM94.71 184.41h1.7v1.7h-1.7zM97.64 186.03h1.7v1.7h-1.7zM100.58 187.6h1.7v1.7h-1.7zM103.51 189.13h1.7v1.7h-1.7zM106.44 190.42h1.7v1.7h-1.7zM109.38 191.82h1.7v1.7h-1.7zM112.31 193.24h1.7v1.7h-1.7zM115.25 194.97h1.7v1.7h-1.7zM118.18 196.78h1.7v1.7h-1.7zM121.12 198.41h1.7v1.7h-1.7zM124.05 200.25h1.7v1.7h-1.7z" fill="#000"/>
<polyline fill="none" stroke="#8c8cff" stroke-width="0.65" points="22.2,169.8 25.13,184.5 28.07,194.8 31,173.5 33.94,161.8 36.87,173.9 39.81,149.4 42.74,156.3 45.67,148.3 48.61,140.1 51.54,141.9 54.48,139.5 57.41,138.98 60.35,137.94 63.28,137.45 66.21,136.99 69.15,136.81 72.08,137.01 75.02,137.2 77.95,137.99 80.89,139.44 83.82,141.38 86.75,143.96 89.69,146.89 92.62,149.07 95.56,150.76 98.49,152.29 101.43,153.76 104.36,154.82 107.29,154.9 110.23,153.45 113.16,151.5 116.1,148.61 119.03,145.31 121.97,142.16 124.9,138.2"/>
<path d="M21.2 168.8h2v2h-2zM24.13 183.5h2v2h-2zM27.07 193.8h2v2h-2zM30 172.5h2v2h-2zM32.94 160.8h2v2h-2zM35.87 172.9h2v2h-2zM38.81 148.4h2v2h-2zM41.74 155.3h2v2h-2zM44.67 147.3h2v2h-2zM47.61 139.1h2v2h-2zM50.54 140.9h2v2h-2zM53.48 138.5h2v2h-2zM56.41 137.98h2v2h-2zM59.35 136.94h2v2h-2zM62.28 136.45h2v2h-2zM65.21 135.99h2v2h-2zM68.15 135.81h2v2h-2zM71.08 136.01h2v2h-2zM74.02 136.2h2v2h-2zM76.95 136.99h2v2h-2zM79.89 138.44h2v2h-2zM82.82 140.38h2v2h-2zM85.75 142.96h2v2h-2zM88.69 145.89h2v2h-2zM91.62 148.07h2v2h-2zM94.56 149.76h2v2h-2zM97.49 151.29h2v2h-2zM100.43 152.76h2v2h-2zM103.36 153.82h2v2h-2zM106.29 153.9h2v2h-2zM109.23 152.45h2v2h-2zM112.16 150.5h2v2h-2zM115.1 147.61h2v2h-2zM118.03 144.31h2v2h-2zM120.97 141.16h2v2h-2zM123.9 137.2h2v2h-2z" fill="#0000ee"/>
<path d="M21.5 201.78V125.62H125.3M21.5 201.78H125.3" fill="none" stroke="#4a4a4a" stroke-width="0.5"/>
<path d="M125.3 125.62V201.78" fill="none" stroke="#5555ff" stroke-width="0.5"/>
<path d="M25.96 201.78v-0.7M25.96 125.62v0.7M28.58 201.78v-0.7M28.58 125.62v0.7M30.43 201.78v-0.7M30.43 125.62v0.7M31.86 201.78v-0.7M31.86 125.62v0.7M33.04 201.78v-0.7M33.04 125.62v0.7M34.03 201.78v-0.7M34.03 125.62v0.7M34.89 201.78v-0.7M34.89 125.62v0.7M35.65 201.78v-0.7M35.65 125.62v0.7M40.79 201.78v-0.7M40.79 125.62v0.7M43.4 201.78v-0.7M43.4 125.62v0.7M45.26 201.78v-0.7M45.26 125.62v0.7M46.69 201.78v-0.7M46.69 125.62v0.7M47.87 201.78v-0.7M47.87 125.62v0.7M48.86 201.78v-0.7M48.86 125.62v0.7M49.72 201.78v-0.7M49.72 125.62v0.7M50.48 201.78v-0.7M50.48 125.62v0.7M55.62 201.78v-0.7M55.62 125.62v0.7M58.23 201.78v-0.7M58.23 125.62v0.7M60.08 201.78v-0.7M60.08 125.62v0.7M61.52 201.78v-0.7M61.52 125.62v0.7M62.7 201.78v-0.7M62.7 125.62v0.7M63.69 201.78v-0.7M63.69 125.62v0.7M64.55 201.78v-0.7M64.55 125.62v0.7M65.31 201.78v-0.7M65.31 125.62v0.7M70.45 201.78v-0.7M70.45 125.62v0.7M73.06 201.78v-0.7M73.06 125.62v0.7M74.91 201.78v-0.7M74.91 125.62v0.7M76.35 201.78v-0.7M76.35 125.62v0.7M77.52 201.78v-0.7M77.52 125.62v0.7M78.52 201.78v-0.7M78.52 125.62v0.7M79.38 201.78v-0.7M79.38 125.62v0.7M80.14 201.78v-0.7M80.14 125.62v0.7M85.28 201.78v-0.7M85.28 125.62v0.7M87.89 201.78v-0.7M87.89 125.62v0.7M89.74 201.78v-0.7M89.74 125.62v0.7M91.18 201.78v-0.7M91.18 125.62v0.7M92.35 201.78v-0.7M92.35 125.62v0.7M93.35 201.78v-0.7M93.35 125.62v0.7M94.21 201.78v-0.7M94.21 125.62v0.7M94.96 201.78v-0.7M94.96 125.62v0.7M100.11 201.78v-0.7M100.11 125.62v0.7M102.72 201.78v-0.7M102.72 125.62v0.7M104.57 201.78v-0.7M104.57 125.62v0.7M106.01 201.78v-0.7M106.01 125.62v0.7M107.18 201.78v-0.7M107.18 125.62v0.7M108.17 201.78v-0.7M108.17 125.62v0.7M109.03 201.78v-0.7M109.03 125.62v0.7M109.79 201.78v-0.7M109.79 125.62v0.7M114.94 201.78v-0.7M114.94 125.62v0.7M117.55 201.78v-0.7M117.55 125.62v0.7M119.4 201.78v-0.7M119.4 125.62v0.7M120.84 201.78v-0.7M120.84 125.62v0.7M122.01 201.78v-0.7M122.01 125.62v0.7M123 201.78v-0.7M123 125.62v0.7M123.86 201.78v-0.7M123.86 125.62v0.7M124.62 201.78v-0.7M124.62 125.62v0.7M21.5 133.23h0.7M21.5 131.31h0.7M21.5 129.95h0.7M21.5 128.9h0.7M21.5 128.04h0.7M21.5 127.31h0.7M21.5 126.68h0.7M21.5 126.12h0.7M21.5 144.11h0.7M21.5 142.19h0.7M21.5 140.83h0.7M21.5 139.78h0.7M21.5 138.92h0.7M21.5 138.19h0.7M21.5 137.56h0.7M21.5 137h0.7M21.5 154.99h0.7M21.5 153.07h0.7M21.5 151.71h0.7M21.5 150.66h0.7M21.5 149.8h0.7M21.5 149.07h0.7M21.5 148.44h0.7M21.5 147.88h0.7M21.5 165.86h0.7M21.5 163.95h0.7M21.5 162.59h0.7M21.5 161.54h0.7M21.5 160.67h0.7M21.5 159.95h0.7M21.5 159.31h0.7M21.5 158.76h0.7M21.5 176.74h0.7M21.5 174.83h0.7M21.5 173.47h0.7M21.5 172.41h0.7M21.5 171.55h0.7M21.5 170.82h0.7M21.5 170.19h0.7M21.5 169.64h0.7M21.5 187.62h0.7M21.5 185.71h0.7M21.5 184.35h0.7M21.5 183.29h0.7M21.5 182.43h0.7M21.5 181.7h0.7M21.5 181.07h0.7M21.5 180.52h0.7M21.5 198.5h0.7M21.5 196.58h0.7M21.5 195.23h0.7M21.5 194.17h0.7M21.5 193.31h0.7M21.5 192.58h0.7M21.5 191.95h0.7M21.5 191.39h0.7" fill="none" stroke="#444" stroke-width="0.35"/>
<path d="M21.5 202.08v-1.5M21.5 125.33v1.5M36.33 202.08v-1.5M36.33 125.33v1.5M51.16 202.08v-1.5M51.16 125.33v1.5M65.99 202.08v-1.5M65.99 125.33v1.5M80.81 202.08v-1.5M80.81 125.33v1.5M95.64 202.08v-1.5M95.64 125.33v1.5M110.47 202.08v-1.5M110.47 125.33v1.5M125.3 202.08v-1.5M125.3 125.33v1.5M21.2 125.62h1.5M21.2 136.5h1.5M21.2 147.38h1.5M21.2 158.26h1.5M21.2 169.14h1.5M21.2 180.02h1.5M21.2 190.9h1.5M21.2 201.78h1.5" fill="none" stroke="#333" stroke-width="0.55"/>
<path d="M125.6 125.62h-1.5M125.3 129.43h-0.7M125.6 133.24h-1.5M125.3 137.05h-0.7M125.6 140.85h-1.5M125.3 144.66h-0.7M125.6 148.47h-1.5M125.3 152.28h-0.7M125.6 156.09h-1.5M125.3 159.89h-0.7M125.6 163.7h-1.5M125.3 167.51h-0.7M125.6 171.31h-1.5M125.3 175.12h-0.7M125.6 178.93h-1.5M125.3 182.74h-0.7M125.6 186.55h-1.5M125.3 190.35h-0.7M125.6 194.16h-1.5M125.3 197.97h-0.7M125.6 201.78h-1.5" fill="none" stroke="#4444ff" stroke-width="0.5"/>
<g fill="#444" stroke="#444" stroke-width="0.06"><text x="19" y="126.83" text-anchor="end" font-size="3.1">10<tspan font-size="2.11" dy="-1.5">11</tspan></text><text x="19" y="137.7" text-anchor="end" font-size="3.1">10<tspan font-size="2.11" dy="-1.5">10</tspan></text><text x="19" y="148.58" text-anchor="end" font-size="3.1">10<tspan font-size="2.11" dy="-1.5">9</tspan></text><text x="19" y="159.46" text-anchor="end" font-size="3.1">10<tspan font-size="2.11" dy="-1.5">8</tspan></text><text x="19" y="170.34" text-anchor="end" font-size="3.1">10<tspan font-size="2.11" dy="-1.5">7</tspan></text><text x="19" y="181.22" text-anchor="end" font-size="3.1">10<tspan font-size="2.11" dy="-1.5">6</tspan></text><text x="19" y="192.1" text-anchor="end" font-size="3.1">10<tspan font-size="2.11" dy="-1.5">5</tspan></text><text x="19" y="202.97" text-anchor="end" font-size="3.1">10<tspan font-size="2.11" dy="-1.5">4</tspan></text><text x="21.5" y="207.58" text-anchor="middle" font-size="3.1">10<tspan font-size="2.11" dy="-1.5">-2</tspan></text><text x="36.33" y="207.58" text-anchor="middle" font-size="3.1">10<tspan font-size="2.11" dy="-1.5">-1</tspan></text><text x="51.16" y="207.58" text-anchor="middle" font-size="3.1">10<tspan font-size="2.11" dy="-1.5">0</tspan></text><text x="65.99" y="207.58" text-anchor="middle" font-size="3.1">10<tspan font-size="2.11" dy="-1.5">1</tspan></text><text x="80.81" y="207.58" text-anchor="middle" font-size="3.1">10<tspan font-size="2.11" dy="-1.5">2</tspan></text><text x="95.64" y="207.58" text-anchor="middle" font-size="3.1">10<tspan font-size="2.11" dy="-1.5">3</tspan></text><text x="110.47" y="207.58" text-anchor="middle" font-size="3.1">10<tspan font-size="2.11" dy="-1.5">4</tspan></text><text x="125.3" y="207.58" text-anchor="middle" font-size="3.1">10<tspan font-size="2.11" dy="-1.5">5</tspan></text></g>
<g fill="#2222ee" stroke="#2222ee" stroke-width="0.1"><text x="127.9" y="126.78" font-size="3.1">100</text><text x="127.9" y="134.39" font-size="3.1">90</text><text x="127.9" y="142" font-size="3.1">80</text><text x="127.9" y="149.62" font-size="3.1">70</text><text x="127.9" y="157.24" font-size="3.1">60</text><text x="127.9" y="164.85" font-size="3.1">50</text><text x="127.9" y="172.47" font-size="3.1">40</text><text x="127.9" y="180.08" font-size="3.1">30</text><text x="127.9" y="187.7" font-size="3.1">20</text><text x="127.9" y="195.31" font-size="3.1">10</text><text x="127.9" y="202.93" font-size="3.1">0</text></g>
<text x="72.05" y="123.88" text-anchor="middle" font-size="4.1" fill="#111" stroke="#111" stroke-width="0.13">750 h</text>
<text x="73.4" y="214.58" text-anchor="middle" font-size="4.3" fill="#111" stroke="#111" stroke-width="0.13">Freq. [Hz]</text>
<text transform="translate(8.2 166.9) rotate(-90)" text-anchor="middle" font-size="4.2" fill="#111" stroke="#111" stroke-width="0.13">|Z| [ohm·cm<tspan font-size="2.9" dy="-1.4">2</tspan><tspan dy="1.4">]</tspan></text>
<text transform="translate(138.4 166) rotate(-90)" text-anchor="middle" font-size="4.1" fill="#111" stroke="#111" stroke-width="0.13">- Phase [°]</text>
<polyline fill="none" stroke="#777" stroke-width="0.55" points="177.9,135.9 180.83,135.9 183.77,136.1 186.7,141.7 189.64,136.8 192.57,141.9 195.51,146.1 198.44,146.7 201.37,149.25 204.31,151.23 207.24,153.13 210.18,155.21 213.11,157.4 216.05,159.54 218.98,161.59 221.91,163.58 224.85,165.63 227.78,167.69 230.72,169.81 233.65,171.84 236.59,174.09 239.52,176.14 242.45,178.1 245.39,180.03 248.32,182.1 251.26,184.13 254.19,186.03 257.13,187.74 260.06,189.46 262.99,191.22 265.93,192.94 268.86,194.48 271.8,195.95 274.73,197.37 277.67,198.79 280.6,200.8"/>
<path d="M177.05 135.05h1.7v1.7h-1.7zM179.98 135.05h1.7v1.7h-1.7zM182.92 135.25h1.7v1.7h-1.7zM185.85 140.85h1.7v1.7h-1.7zM188.79 135.95h1.7v1.7h-1.7zM191.72 141.05h1.7v1.7h-1.7zM194.66 145.25h1.7v1.7h-1.7zM197.59 145.85h1.7v1.7h-1.7zM200.52 148.4h1.7v1.7h-1.7zM203.46 150.38h1.7v1.7h-1.7zM206.39 152.28h1.7v1.7h-1.7zM209.33 154.36h1.7v1.7h-1.7zM212.26 156.55h1.7v1.7h-1.7zM215.2 158.69h1.7v1.7h-1.7zM218.13 160.74h1.7v1.7h-1.7zM221.06 162.73h1.7v1.7h-1.7zM224 164.78h1.7v1.7h-1.7zM226.93 166.84h1.7v1.7h-1.7zM229.87 168.96h1.7v1.7h-1.7zM232.8 170.99h1.7v1.7h-1.7zM235.74 173.24h1.7v1.7h-1.7zM238.67 175.29h1.7v1.7h-1.7zM241.6 177.25h1.7v1.7h-1.7zM244.54 179.18h1.7v1.7h-1.7zM247.47 181.25h1.7v1.7h-1.7zM250.41 183.28h1.7v1.7h-1.7zM253.34 185.18h1.7v1.7h-1.7zM256.28 186.89h1.7v1.7h-1.7zM259.21 188.61h1.7v1.7h-1.7zM262.14 190.37h1.7v1.7h-1.7zM265.08 192.09h1.7v1.7h-1.7zM268.01 193.63h1.7v1.7h-1.7zM270.95 195.1h1.7v1.7h-1.7zM273.88 196.52h1.7v1.7h-1.7zM276.82 197.94h1.7v1.7h-1.7zM279.75 199.95h1.7v1.7h-1.7z" fill="#000"/>
<polyline fill="none" stroke="#8c8cff" stroke-width="0.65" points="177.9,163.1 180.83,163.1 183.77,139.5 186.7,158.7 189.64,135.9 192.57,141.9 195.51,151.3 198.44,141.9 201.37,141.9 204.31,139.6 207.24,139 210.18,138.54 213.11,137.93 216.05,137.48 218.98,137.28 221.91,137.1 224.85,137.1 227.78,137.1 230.72,137.3 233.65,137.5 236.59,137.7 239.52,138.19 242.45,138.77 245.39,139.86 248.32,141.54 251.26,143.72 254.19,145.82 257.13,147.54 260.06,148.62 262.99,149.51 265.93,150.78 268.86,152.19 271.8,152.93 274.73,152.36 277.67,150.92 280.6,148.48"/>
<path d="M176.9 162.1h2v2h-2zM179.83 162.1h2v2h-2zM182.77 138.5h2v2h-2zM185.7 157.7h2v2h-2zM188.64 134.9h2v2h-2zM191.57 140.9h2v2h-2zM194.51 150.3h2v2h-2zM197.44 140.9h2v2h-2zM200.37 140.9h2v2h-2zM203.31 138.6h2v2h-2zM206.24 138h2v2h-2zM209.18 137.54h2v2h-2zM212.11 136.93h2v2h-2zM215.05 136.48h2v2h-2zM217.98 136.28h2v2h-2zM220.91 136.1h2v2h-2zM223.85 136.1h2v2h-2zM226.78 136.1h2v2h-2zM229.72 136.3h2v2h-2zM232.65 136.5h2v2h-2zM235.59 136.7h2v2h-2zM238.52 137.19h2v2h-2zM241.45 137.77h2v2h-2zM244.39 138.86h2v2h-2zM247.32 140.54h2v2h-2zM250.26 142.72h2v2h-2zM253.19 144.82h2v2h-2zM256.13 146.54h2v2h-2zM259.06 147.62h2v2h-2zM261.99 148.51h2v2h-2zM264.93 149.78h2v2h-2zM267.86 151.19h2v2h-2zM270.8 151.93h2v2h-2zM273.73 151.36h2v2h-2zM276.67 149.92h2v2h-2zM279.6 147.48h2v2h-2z" fill="#0000ee"/>
<path d="M177.2 203.28V127.12H281M177.2 203.28H281" fill="none" stroke="#4a4a4a" stroke-width="0.5"/>
<path d="M281 127.12V203.28" fill="none" stroke="#5555ff" stroke-width="0.5"/>
<path d="M181.66 203.28v-0.7M181.66 127.12v0.7M184.28 203.28v-0.7M184.28 127.12v0.7M186.13 203.28v-0.7M186.13 127.12v0.7M187.56 203.28v-0.7M187.56 127.12v0.7M188.74 203.28v-0.7M188.74 127.12v0.7M189.73 203.28v-0.7M189.73 127.12v0.7M190.59 203.28v-0.7M190.59 127.12v0.7M191.35 203.28v-0.7M191.35 127.12v0.7M196.49 203.28v-0.7M196.49 127.12v0.7M199.1 203.28v-0.7M199.1 127.12v0.7M200.96 203.28v-0.7M200.96 127.12v0.7M202.39 203.28v-0.7M202.39 127.12v0.7M203.57 203.28v-0.7M203.57 127.12v0.7M204.56 203.28v-0.7M204.56 127.12v0.7M205.42 203.28v-0.7M205.42 127.12v0.7M206.18 203.28v-0.7M206.18 127.12v0.7M211.32 203.28v-0.7M211.32 127.12v0.7M213.93 203.28v-0.7M213.93 127.12v0.7M215.78 203.28v-0.7M215.78 127.12v0.7M217.22 203.28v-0.7M217.22 127.12v0.7M218.4 203.28v-0.7M218.4 127.12v0.7M219.39 203.28v-0.7M219.39 127.12v0.7M220.25 203.28v-0.7M220.25 127.12v0.7M221.01 203.28v-0.7M221.01 127.12v0.7M226.15 203.28v-0.7M226.15 127.12v0.7M228.76 203.28v-0.7M228.76 127.12v0.7M230.61 203.28v-0.7M230.61 127.12v0.7M232.05 203.28v-0.7M232.05 127.12v0.7M233.22 203.28v-0.7M233.22 127.12v0.7M234.22 203.28v-0.7M234.22 127.12v0.7M235.08 203.28v-0.7M235.08 127.12v0.7M235.84 203.28v-0.7M235.84 127.12v0.7M240.98 203.28v-0.7M240.98 127.12v0.7M243.59 203.28v-0.7M243.59 127.12v0.7M245.44 203.28v-0.7M245.44 127.12v0.7M246.88 203.28v-0.7M246.88 127.12v0.7M248.05 203.28v-0.7M248.05 127.12v0.7M249.05 203.28v-0.7M249.05 127.12v0.7M249.91 203.28v-0.7M249.91 127.12v0.7M250.66 203.28v-0.7M250.66 127.12v0.7M255.81 203.28v-0.7M255.81 127.12v0.7M258.42 203.28v-0.7M258.42 127.12v0.7M260.27 203.28v-0.7M260.27 127.12v0.7M261.71 203.28v-0.7M261.71 127.12v0.7M262.88 203.28v-0.7M262.88 127.12v0.7M263.87 203.28v-0.7M263.87 127.12v0.7M264.73 203.28v-0.7M264.73 127.12v0.7M265.49 203.28v-0.7M265.49 127.12v0.7M270.64 203.28v-0.7M270.64 127.12v0.7M273.25 203.28v-0.7M273.25 127.12v0.7M275.1 203.28v-0.7M275.1 127.12v0.7M276.54 203.28v-0.7M276.54 127.12v0.7M277.71 203.28v-0.7M277.71 127.12v0.7M278.7 203.28v-0.7M278.7 127.12v0.7M279.56 203.28v-0.7M279.56 127.12v0.7M280.32 203.28v-0.7M280.32 127.12v0.7M177.2 134.73h0.7M177.2 132.81h0.7M177.2 131.45h0.7M177.2 130.4h0.7M177.2 129.54h0.7M177.2 128.81h0.7M177.2 128.18h0.7M177.2 127.62h0.7M177.2 145.61h0.7M177.2 143.69h0.7M177.2 142.33h0.7M177.2 141.28h0.7M177.2 140.42h0.7M177.2 139.69h0.7M177.2 139.06h0.7M177.2 138.5h0.7M177.2 156.49h0.7M177.2 154.57h0.7M177.2 153.21h0.7M177.2 152.16h0.7M177.2 151.3h0.7M177.2 150.57h0.7M177.2 149.94h0.7M177.2 149.38h0.7M177.2 167.36h0.7M177.2 165.45h0.7M177.2 164.09h0.7M177.2 163.04h0.7M177.2 162.17h0.7M177.2 161.45h0.7M177.2 160.81h0.7M177.2 160.26h0.7M177.2 178.24h0.7M177.2 176.33h0.7M177.2 174.97h0.7M177.2 173.91h0.7M177.2 173.05h0.7M177.2 172.32h0.7M177.2 171.69h0.7M177.2 171.14h0.7M177.2 189.12h0.7M177.2 187.21h0.7M177.2 185.85h0.7M177.2 184.79h0.7M177.2 183.93h0.7M177.2 183.2h0.7M177.2 182.57h0.7M177.2 182.02h0.7M177.2 200h0.7M177.2 198.08h0.7M177.2 196.73h0.7M177.2 195.67h0.7M177.2 194.81h0.7M177.2 194.08h0.7M177.2 193.45h0.7M177.2 192.89h0.7" fill="none" stroke="#444" stroke-width="0.35"/>
<path d="M177.2 203.58v-1.5M177.2 126.83v1.5M192.03 203.58v-1.5M192.03 126.83v1.5M206.86 203.58v-1.5M206.86 126.83v1.5M221.69 203.58v-1.5M221.69 126.83v1.5M236.51 203.58v-1.5M236.51 126.83v1.5M251.34 203.58v-1.5M251.34 126.83v1.5M266.17 203.58v-1.5M266.17 126.83v1.5M281 203.58v-1.5M281 126.83v1.5M176.9 127.12h1.5M176.9 138h1.5M176.9 148.88h1.5M176.9 159.76h1.5M176.9 170.64h1.5M176.9 181.52h1.5M176.9 192.4h1.5M176.9 203.28h1.5" fill="none" stroke="#333" stroke-width="0.55"/>
<path d="M281.3 127.12h-1.5M281 130.93h-0.7M281.3 134.74h-1.5M281 138.55h-0.7M281.3 142.35h-1.5M281 146.16h-0.7M281.3 149.97h-1.5M281 153.78h-0.7M281.3 157.59h-1.5M281 161.39h-0.7M281.3 165.2h-1.5M281 169.01h-0.7M281.3 172.81h-1.5M281 176.62h-0.7M281.3 180.43h-1.5M281 184.24h-0.7M281.3 188.05h-1.5M281 191.85h-0.7M281.3 195.66h-1.5M281 199.47h-0.7M281.3 203.28h-1.5" fill="none" stroke="#4444ff" stroke-width="0.5"/>
<g fill="#444" stroke="#444" stroke-width="0.06"><text x="174.7" y="128.32" text-anchor="end" font-size="3.1">10<tspan font-size="2.11" dy="-1.5">11</tspan></text><text x="174.7" y="139.2" text-anchor="end" font-size="3.1">10<tspan font-size="2.11" dy="-1.5">10</tspan></text><text x="174.7" y="150.08" text-anchor="end" font-size="3.1">10<tspan font-size="2.11" dy="-1.5">9</tspan></text><text x="174.7" y="160.96" text-anchor="end" font-size="3.1">10<tspan font-size="2.11" dy="-1.5">8</tspan></text><text x="174.7" y="171.84" text-anchor="end" font-size="3.1">10<tspan font-size="2.11" dy="-1.5">7</tspan></text><text x="174.7" y="182.72" text-anchor="end" font-size="3.1">10<tspan font-size="2.11" dy="-1.5">6</tspan></text><text x="174.7" y="193.6" text-anchor="end" font-size="3.1">10<tspan font-size="2.11" dy="-1.5">5</tspan></text><text x="174.7" y="204.47" text-anchor="end" font-size="3.1">10<tspan font-size="2.11" dy="-1.5">4</tspan></text><text x="177.2" y="209.08" text-anchor="middle" font-size="3.1">10<tspan font-size="2.11" dy="-1.5">-2</tspan></text><text x="192.03" y="209.08" text-anchor="middle" font-size="3.1">10<tspan font-size="2.11" dy="-1.5">-1</tspan></text><text x="206.86" y="209.08" text-anchor="middle" font-size="3.1">10<tspan font-size="2.11" dy="-1.5">0</tspan></text><text x="221.69" y="209.08" text-anchor="middle" font-size="3.1">10<tspan font-size="2.11" dy="-1.5">1</tspan></text><text x="236.51" y="209.08" text-anchor="middle" font-size="3.1">10<tspan font-size="2.11" dy="-1.5">2</tspan></text><text x="251.34" y="209.08" text-anchor="middle" font-size="3.1">10<tspan font-size="2.11" dy="-1.5">3</tspan></text><text x="266.17" y="209.08" text-anchor="middle" font-size="3.1">10<tspan font-size="2.11" dy="-1.5">4</tspan></text><text x="281" y="209.08" text-anchor="middle" font-size="3.1">10<tspan font-size="2.11" dy="-1.5">5</tspan></text></g>
<g fill="#2222ee" stroke="#2222ee" stroke-width="0.1"><text x="283.6" y="128.28" font-size="3.1">100</text><text x="283.6" y="135.89" font-size="3.1">90</text><text x="283.6" y="143.5" font-size="3.1">80</text><text x="283.6" y="151.12" font-size="3.1">70</text><text x="283.6" y="158.74" font-size="3.1">60</text><text x="283.6" y="166.35" font-size="3.1">50</text><text x="283.6" y="173.97" font-size="3.1">40</text><text x="283.6" y="181.58" font-size="3.1">30</text><text x="283.6" y="189.2" font-size="3.1">20</text><text x="283.6" y="196.81" font-size="3.1">10</text><text x="283.6" y="204.43" font-size="3.1">0</text></g>
<text x="233.2" y="124.78" text-anchor="middle" font-size="4.1" fill="#111" stroke="#111" stroke-width="0.13">1000 h</text>
<text x="229.1" y="216.08" text-anchor="middle" font-size="4.3" fill="#111" stroke="#111" stroke-width="0.13">Freq. [Hz]</text>
<text transform="translate(163.9 168.4) rotate(-90)" text-anchor="middle" font-size="4.2" fill="#111" stroke="#111" stroke-width="0.13">|Z| [ohm·cm<tspan font-size="2.9" dy="-1.4">2</tspan><tspan dy="1.4">]</tspan></text>
<text transform="translate(294.1 167.5) rotate(-90)" text-anchor="middle" font-size="4.1" fill="#111" stroke="#111" stroke-width="0.13">- Phase [°]</text>
<polyline fill="none" stroke="#777" stroke-width="0.55" points="333.4,138.4 336.33,142.4 339.27,132.5 342.2,141.7 345.14,140.5 348.07,144.3 351.01,146.1 353.94,147.63 356.87,149.62 359.81,151.59 362.74,153.39 365.68,155.16 368.61,157.41 371.55,159.33 374.48,161.39 377.41,163.44 380.35,165.46 383.28,167.49 386.22,169.44 389.15,171.69 392.09,173.72 395.02,175.84 397.95,177.65 400.89,179.53 403.82,181.63 406.76,183.73 409.69,185.85 412.63,187.85 415.56,189.5 418.49,191.12 421.43,192.79 424.36,194.49 427.3,196.04 430.23,197.52 433.17,199.11 436.1,200.6"/>
<path d="M332.55 137.55h1.7v1.7h-1.7zM335.48 141.55h1.7v1.7h-1.7zM338.42 131.65h1.7v1.7h-1.7zM341.35 140.85h1.7v1.7h-1.7zM344.29 139.65h1.7v1.7h-1.7zM347.22 143.45h1.7v1.7h-1.7zM350.16 145.25h1.7v1.7h-1.7zM353.09 146.78h1.7v1.7h-1.7zM356.02 148.77h1.7v1.7h-1.7zM358.96 150.74h1.7v1.7h-1.7zM361.89 152.54h1.7v1.7h-1.7zM364.83 154.31h1.7v1.7h-1.7zM367.76 156.56h1.7v1.7h-1.7zM370.7 158.48h1.7v1.7h-1.7zM373.63 160.54h1.7v1.7h-1.7zM376.56 162.59h1.7v1.7h-1.7zM379.5 164.61h1.7v1.7h-1.7zM382.43 166.64h1.7v1.7h-1.7zM385.37 168.59h1.7v1.7h-1.7zM388.3 170.84h1.7v1.7h-1.7zM391.24 172.87h1.7v1.7h-1.7zM394.17 174.99h1.7v1.7h-1.7zM397.1 176.8h1.7v1.7h-1.7zM400.04 178.68h1.7v1.7h-1.7zM402.97 180.78h1.7v1.7h-1.7zM405.91 182.88h1.7v1.7h-1.7zM408.84 185h1.7v1.7h-1.7zM411.78 187h1.7v1.7h-1.7zM414.71 188.65h1.7v1.7h-1.7zM417.64 190.27h1.7v1.7h-1.7zM420.58 191.94h1.7v1.7h-1.7zM423.51 193.64h1.7v1.7h-1.7zM426.45 195.19h1.7v1.7h-1.7zM429.38 196.67h1.7v1.7h-1.7zM432.32 198.26h1.7v1.7h-1.7zM435.25 199.75h1.7v1.7h-1.7z" fill="#000"/>
<polyline fill="none" stroke="#8c8cff" stroke-width="0.65" points="333.4,174.1 336.33,169.8 339.27,177.6 342.2,166.6 345.14,158.1 348.07,152.8 351.01,148 353.94,147.4 356.87,144.1 359.81,142.9 362.74,141.2 365.68,140.97 368.61,139.8 371.55,138.89 374.48,138.2 377.41,137.71 380.35,137.31 383.28,137.1 386.22,137.1 389.15,137.1 392.09,137.29 395.02,137.69 397.95,138.16 400.89,138.89 403.82,140.74 406.76,143.01 409.69,146.36 412.63,149.41 415.56,152.36 418.49,154.47 421.43,155.84 424.36,156.74 427.3,157.64 430.23,157.56 433.17,156.6 436.1,155.2"/>
<path d="M332.4 173.1h2v2h-2zM335.33 168.8h2v2h-2zM338.27 176.6h2v2h-2zM341.2 165.6h2v2h-2zM344.14 157.1h2v2h-2zM347.07 151.8h2v2h-2zM350.01 147h2v2h-2zM352.94 146.4h2v2h-2zM355.87 143.1h2v2h-2zM358.81 141.9h2v2h-2zM361.74 140.2h2v2h-2zM364.68 139.97h2v2h-2zM367.61 138.8h2v2h-2zM370.55 137.89h2v2h-2zM373.48 137.2h2v2h-2zM376.41 136.71h2v2h-2zM379.35 136.31h2v2h-2zM382.28 136.1h2v2h-2zM385.22 136.1h2v2h-2zM388.15 136.1h2v2h-2zM391.09 136.29h2v2h-2zM394.02 136.69h2v2h-2zM396.95 137.16h2v2h-2zM399.89 137.89h2v2h-2zM402.82 139.74h2v2h-2zM405.76 142.01h2v2h-2zM408.69 145.36h2v2h-2zM411.63 148.41h2v2h-2zM414.56 151.36h2v2h-2zM417.49 153.47h2v2h-2zM420.43 154.84h2v2h-2zM423.36 155.74h2v2h-2zM426.3 156.64h2v2h-2zM429.23 156.56h2v2h-2zM432.17 155.6h2v2h-2zM435.1 154.2h2v2h-2z" fill="#0000ee"/>
<path d="M332.7 202.47V126.33H436.5M332.7 202.47H436.5" fill="none" stroke="#4a4a4a" stroke-width="0.5"/>
<path d="M436.5 126.33V202.47" fill="none" stroke="#5555ff" stroke-width="0.5"/>
<path d="M337.16 202.47v-0.7M337.16 126.33v0.7M339.78 202.47v-0.7M339.78 126.33v0.7M341.63 202.47v-0.7M341.63 126.33v0.7M343.06 202.47v-0.7M343.06 126.33v0.7M344.24 202.47v-0.7M344.24 126.33v0.7M345.23 202.47v-0.7M345.23 126.33v0.7M346.09 202.47v-0.7M346.09 126.33v0.7M346.85 202.47v-0.7M346.85 126.33v0.7M351.99 202.47v-0.7M351.99 126.33v0.7M354.6 202.47v-0.7M354.6 126.33v0.7M356.46 202.47v-0.7M356.46 126.33v0.7M357.89 202.47v-0.7M357.89 126.33v0.7M359.07 202.47v-0.7M359.07 126.33v0.7M360.06 202.47v-0.7M360.06 126.33v0.7M360.92 202.47v-0.7M360.92 126.33v0.7M361.68 202.47v-0.7M361.68 126.33v0.7M366.82 202.47v-0.7M366.82 126.33v0.7M369.43 202.47v-0.7M369.43 126.33v0.7M371.28 202.47v-0.7M371.28 126.33v0.7M372.72 202.47v-0.7M372.72 126.33v0.7M373.9 202.47v-0.7M373.9 126.33v0.7M374.89 202.47v-0.7M374.89 126.33v0.7M375.75 202.47v-0.7M375.75 126.33v0.7M376.51 202.47v-0.7M376.51 126.33v0.7M381.65 202.47v-0.7M381.65 126.33v0.7M384.26 202.47v-0.7M384.26 126.33v0.7M386.11 202.47v-0.7M386.11 126.33v0.7M387.55 202.47v-0.7M387.55 126.33v0.7M388.72 202.47v-0.7M388.72 126.33v0.7M389.72 202.47v-0.7M389.72 126.33v0.7M390.58 202.47v-0.7M390.58 126.33v0.7M391.34 202.47v-0.7M391.34 126.33v0.7M396.48 202.47v-0.7M396.48 126.33v0.7M399.09 202.47v-0.7M399.09 126.33v0.7M400.94 202.47v-0.7M400.94 126.33v0.7M402.38 202.47v-0.7M402.38 126.33v0.7M403.55 202.47v-0.7M403.55 126.33v0.7M404.55 202.47v-0.7M404.55 126.33v0.7M405.41 202.47v-0.7M405.41 126.33v0.7M406.16 202.47v-0.7M406.16 126.33v0.7M411.31 202.47v-0.7M411.31 126.33v0.7M413.92 202.47v-0.7M413.92 126.33v0.7M415.77 202.47v-0.7M415.77 126.33v0.7M417.21 202.47v-0.7M417.21 126.33v0.7M418.38 202.47v-0.7M418.38 126.33v0.7M419.37 202.47v-0.7M419.37 126.33v0.7M420.23 202.47v-0.7M420.23 126.33v0.7M420.99 202.47v-0.7M420.99 126.33v0.7M426.14 202.47v-0.7M426.14 126.33v0.7M428.75 202.47v-0.7M428.75 126.33v0.7M430.6 202.47v-0.7M430.6 126.33v0.7M432.04 202.47v-0.7M432.04 126.33v0.7M433.21 202.47v-0.7M433.21 126.33v0.7M434.2 202.47v-0.7M434.2 126.33v0.7M435.06 202.47v-0.7M435.06 126.33v0.7M435.82 202.47v-0.7M435.82 126.33v0.7M332.7 133.93h0.7M332.7 132.01h0.7M332.7 130.65h0.7M332.7 129.6h0.7M332.7 128.74h0.7M332.7 128.01h0.7M332.7 127.38h0.7M332.7 126.82h0.7M332.7 144.81h0.7M332.7 142.89h0.7M332.7 141.53h0.7M332.7 140.48h0.7M332.7 139.62h0.7M332.7 138.89h0.7M332.7 138.26h0.7M332.7 137.7h0.7M332.7 155.69h0.7M332.7 153.77h0.7M332.7 152.41h0.7M332.7 151.36h0.7M332.7 150.5h0.7M332.7 149.77h0.7M332.7 149.14h0.7M332.7 148.58h0.7M332.7 166.56h0.7M332.7 164.65h0.7M332.7 163.29h0.7M332.7 162.24h0.7M332.7 161.37h0.7M332.7 160.65h0.7M332.7 160.01h0.7M332.7 159.46h0.7M332.7 177.44h0.7M332.7 175.53h0.7M332.7 174.17h0.7M332.7 173.11h0.7M332.7 172.25h0.7M332.7 171.52h0.7M332.7 170.89h0.7M332.7 170.34h0.7M332.7 188.32h0.7M332.7 186.41h0.7M332.7 185.05h0.7M332.7 183.99h0.7M332.7 183.13h0.7M332.7 182.4h0.7M332.7 181.77h0.7M332.7 181.22h0.7M332.7 199.2h0.7M332.7 197.28h0.7M332.7 195.93h0.7M332.7 194.87h0.7M332.7 194.01h0.7M332.7 193.28h0.7M332.7 192.65h0.7M332.7 192.09h0.7" fill="none" stroke="#444" stroke-width="0.35"/>
<path d="M332.7 202.78v-1.5M332.7 126.03v1.5M347.53 202.78v-1.5M347.53 126.03v1.5M362.36 202.78v-1.5M362.36 126.03v1.5M377.19 202.78v-1.5M377.19 126.03v1.5M392.01 202.78v-1.5M392.01 126.03v1.5M406.84 202.78v-1.5M406.84 126.03v1.5M421.67 202.78v-1.5M421.67 126.03v1.5M436.5 202.78v-1.5M436.5 126.03v1.5M332.4 126.33h1.5M332.4 137.2h1.5M332.4 148.08h1.5M332.4 158.96h1.5M332.4 169.84h1.5M332.4 180.72h1.5M332.4 191.6h1.5M332.4 202.47h1.5" fill="none" stroke="#333" stroke-width="0.55"/>
<path d="M436.8 126.33h-1.5M436.5 130.13h-0.7M436.8 133.94h-1.5M436.5 137.75h-0.7M436.8 141.56h-1.5M436.5 145.36h-0.7M436.8 149.17h-1.5M436.5 152.98h-0.7M436.8 156.78h-1.5M436.5 160.59h-0.7M436.8 164.4h-1.5M436.5 168.21h-0.7M436.8 172.01h-1.5M436.5 175.82h-0.7M436.8 179.63h-1.5M436.5 183.44h-0.7M436.8 187.25h-1.5M436.5 191.05h-0.7M436.8 194.86h-1.5M436.5 198.67h-0.7M436.8 202.47h-1.5" fill="none" stroke="#4444ff" stroke-width="0.5"/>
<g fill="#444" stroke="#444" stroke-width="0.06"><text x="330.2" y="127.53" text-anchor="end" font-size="3.1">10<tspan font-size="2.11" dy="-1.5">11</tspan></text><text x="330.2" y="138.4" text-anchor="end" font-size="3.1">10<tspan font-size="2.11" dy="-1.5">10</tspan></text><text x="330.2" y="149.28" text-anchor="end" font-size="3.1">10<tspan font-size="2.11" dy="-1.5">9</tspan></text><text x="330.2" y="160.16" text-anchor="end" font-size="3.1">10<tspan font-size="2.11" dy="-1.5">8</tspan></text><text x="330.2" y="171.04" text-anchor="end" font-size="3.1">10<tspan font-size="2.11" dy="-1.5">7</tspan></text><text x="330.2" y="181.92" text-anchor="end" font-size="3.1">10<tspan font-size="2.11" dy="-1.5">6</tspan></text><text x="330.2" y="192.8" text-anchor="end" font-size="3.1">10<tspan font-size="2.11" dy="-1.5">5</tspan></text><text x="330.2" y="203.67" text-anchor="end" font-size="3.1">10<tspan font-size="2.11" dy="-1.5">4</tspan></text><text x="332.7" y="208.28" text-anchor="middle" font-size="3.1">10<tspan font-size="2.11" dy="-1.5">-2</tspan></text><text x="347.53" y="208.28" text-anchor="middle" font-size="3.1">10<tspan font-size="2.11" dy="-1.5">-1</tspan></text><text x="362.36" y="208.28" text-anchor="middle" font-size="3.1">10<tspan font-size="2.11" dy="-1.5">0</tspan></text><text x="377.19" y="208.28" text-anchor="middle" font-size="3.1">10<tspan font-size="2.11" dy="-1.5">1</tspan></text><text x="392.01" y="208.28" text-anchor="middle" font-size="3.1">10<tspan font-size="2.11" dy="-1.5">2</tspan></text><text x="406.84" y="208.28" text-anchor="middle" font-size="3.1">10<tspan font-size="2.11" dy="-1.5">3</tspan></text><text x="421.67" y="208.28" text-anchor="middle" font-size="3.1">10<tspan font-size="2.11" dy="-1.5">4</tspan></text><text x="436.5" y="208.28" text-anchor="middle" font-size="3.1">10<tspan font-size="2.11" dy="-1.5">5</tspan></text></g>
<g fill="#2222ee" stroke="#2222ee" stroke-width="0.1"><text x="439.1" y="127.48" font-size="3.1">100</text><text x="439.1" y="135.09" font-size="3.1">90</text><text x="439.1" y="142.71" font-size="3.1">80</text><text x="439.1" y="150.32" font-size="3.1">70</text><text x="439.1" y="157.94" font-size="3.1">60</text><text x="439.1" y="165.55" font-size="3.1">50</text><text x="439.1" y="173.16" font-size="3.1">40</text><text x="439.1" y="180.78" font-size="3.1">30</text><text x="439.1" y="188.4" font-size="3.1">20</text><text x="439.1" y="196.01" font-size="3.1">10</text><text x="439.1" y="203.62" font-size="3.1">0</text></g>
<text x="384.7" y="123.68" text-anchor="middle" font-size="4.1" fill="#111" stroke="#111" stroke-width="0.13">1250 h</text>
<text x="384.6" y="215.28" text-anchor="middle" font-size="4.3" fill="#111" stroke="#111" stroke-width="0.13">Freq. [Hz]</text>
<text transform="translate(319.4 167.6) rotate(-90)" text-anchor="middle" font-size="4.2" fill="#111" stroke="#111" stroke-width="0.13">|Z| [ohm·cm<tspan font-size="2.9" dy="-1.4">2</tspan><tspan dy="1.4">]</tspan></text>
<text transform="translate(449.6 166.7) rotate(-90)" text-anchor="middle" font-size="4.1" fill="#111" stroke="#111" stroke-width="0.13">- Phase [°]</text>
<polyline fill="none" stroke="#777" stroke-width="0.55" points="22.15,260.9 25.08,261.3 28.02,261 30.95,261 33.89,261 36.82,261 39.76,261.3 42.69,261.6 45.62,262.2 48.56,263.1 51.49,264.6 54.43,266.3 57.36,268.51 60.3,270.56 63.23,272.39 66.16,274.51 69.1,276.57 72.03,278.62 74.97,280.75 77.9,282.77 80.84,284.72 83.77,286.78 86.7,288.74 89.64,290.88 92.57,292.97 95.51,295 98.44,296.93 101.38,298.95 104.31,300.88 107.24,302.51 110.18,304.17 113.11,305.57 116.05,307.23 118.98,308.7 121.92,310.2 124.85,311.9"/>
<path d="M21.3 260.05h1.7v1.7h-1.7zM24.23 260.45h1.7v1.7h-1.7zM27.17 260.15h1.7v1.7h-1.7zM30.1 260.15h1.7v1.7h-1.7zM33.04 260.15h1.7v1.7h-1.7zM35.97 260.15h1.7v1.7h-1.7zM38.91 260.45h1.7v1.7h-1.7zM41.84 260.75h1.7v1.7h-1.7zM44.77 261.35h1.7v1.7h-1.7zM47.71 262.25h1.7v1.7h-1.7zM50.64 263.75h1.7v1.7h-1.7zM53.58 265.45h1.7v1.7h-1.7zM56.51 267.66h1.7v1.7h-1.7zM59.45 269.71h1.7v1.7h-1.7zM62.38 271.54h1.7v1.7h-1.7zM65.31 273.66h1.7v1.7h-1.7zM68.25 275.72h1.7v1.7h-1.7zM71.18 277.77h1.7v1.7h-1.7zM74.12 279.9h1.7v1.7h-1.7zM77.05 281.92h1.7v1.7h-1.7zM79.99 283.87h1.7v1.7h-1.7zM82.92 285.93h1.7v1.7h-1.7zM85.85 287.89h1.7v1.7h-1.7zM88.79 290.03h1.7v1.7h-1.7zM91.72 292.12h1.7v1.7h-1.7zM94.66 294.15h1.7v1.7h-1.7zM97.59 296.08h1.7v1.7h-1.7zM100.53 298.1h1.7v1.7h-1.7zM103.46 300.03h1.7v1.7h-1.7zM106.39 301.66h1.7v1.7h-1.7zM109.33 303.32h1.7v1.7h-1.7zM112.26 304.72h1.7v1.7h-1.7zM115.2 306.38h1.7v1.7h-1.7zM118.13 307.85h1.7v1.7h-1.7zM121.07 309.35h1.7v1.7h-1.7zM124 311.05h1.7v1.7h-1.7z" fill="#000"/>
<polyline fill="none" stroke="#8c8cff" stroke-width="0.65" points="22.15,292.9 25.08,306.7 28.02,293.4 30.95,271.3 33.89,273.6 36.82,263.3 39.76,257.8 42.69,252.5 45.62,255.4 48.56,254.3 51.49,252.2 54.43,252 57.36,250.52 60.3,250.87 63.23,249.97 66.16,249.28 69.1,248.89 72.03,248.6 74.97,248.4 77.9,248.2 80.84,248.2 83.77,248.4 86.7,248.6 89.64,249.07 92.57,249.84 95.51,251.34 98.44,253.05 101.38,255.43 104.31,258.04 107.24,260.06 110.18,261.19 113.11,262.11 116.05,263.24 118.98,264.56 121.92,265.54 124.85,266.3"/>
<path d="M21.15 291.9h2v2h-2zM24.08 305.7h2v2h-2zM27.02 292.4h2v2h-2zM29.95 270.3h2v2h-2zM32.89 272.6h2v2h-2zM35.82 262.3h2v2h-2zM38.76 256.8h2v2h-2zM41.69 251.5h2v2h-2zM44.62 254.4h2v2h-2zM47.56 253.3h2v2h-2zM50.49 251.2h2v2h-2zM53.43 251h2v2h-2zM56.36 249.52h2v2h-2zM59.3 249.87h2v2h-2zM62.23 248.97h2v2h-2zM65.16 248.28h2v2h-2zM68.1 247.89h2v2h-2zM71.03 247.6h2v2h-2zM73.97 247.4h2v2h-2zM76.9 247.2h2v2h-2zM79.84 247.2h2v2h-2zM82.77 247.4h2v2h-2zM85.7 247.6h2v2h-2zM88.64 248.07h2v2h-2zM91.57 248.84h2v2h-2zM94.51 250.34h2v2h-2zM97.44 252.05h2v2h-2zM100.38 254.43h2v2h-2zM103.31 257.04h2v2h-2zM106.24 259.06h2v2h-2zM109.18 260.19h2v2h-2zM112.11 261.11h2v2h-2zM115.05 262.24h2v2h-2zM117.98 263.56h2v2h-2zM120.92 264.54h2v2h-2zM123.85 265.3h2v2h-2z" fill="#0000ee"/>
<path d="M21.45 313.32V237.18H125.25M21.45 313.32H125.25" fill="none" stroke="#4a4a4a" stroke-width="0.5"/>
<path d="M125.25 237.18V313.32" fill="none" stroke="#5555ff" stroke-width="0.5"/>
<path d="M25.91 313.32v-0.7M25.91 237.18v0.7M28.53 313.32v-0.7M28.53 237.18v0.7M30.38 313.32v-0.7M30.38 237.18v0.7M31.81 313.32v-0.7M31.81 237.18v0.7M32.99 313.32v-0.7M32.99 237.18v0.7M33.98 313.32v-0.7M33.98 237.18v0.7M34.84 313.32v-0.7M34.84 237.18v0.7M35.6 313.32v-0.7M35.6 237.18v0.7M40.74 313.32v-0.7M40.74 237.18v0.7M43.35 313.32v-0.7M43.35 237.18v0.7M45.21 313.32v-0.7M45.21 237.18v0.7M46.64 313.32v-0.7M46.64 237.18v0.7M47.82 313.32v-0.7M47.82 237.18v0.7M48.81 313.32v-0.7M48.81 237.18v0.7M49.67 313.32v-0.7M49.67 237.18v0.7M50.43 313.32v-0.7M50.43 237.18v0.7M55.57 313.32v-0.7M55.57 237.18v0.7M58.18 313.32v-0.7M58.18 237.18v0.7M60.03 313.32v-0.7M60.03 237.18v0.7M61.47 313.32v-0.7M61.47 237.18v0.7M62.65 313.32v-0.7M62.65 237.18v0.7M63.64 313.32v-0.7M63.64 237.18v0.7M64.5 313.32v-0.7M64.5 237.18v0.7M65.26 313.32v-0.7M65.26 237.18v0.7M70.4 313.32v-0.7M70.4 237.18v0.7M73.01 313.32v-0.7M73.01 237.18v0.7M74.86 313.32v-0.7M74.86 237.18v0.7M76.3 313.32v-0.7M76.3 237.18v0.7M77.47 313.32v-0.7M77.47 237.18v0.7M78.47 313.32v-0.7M78.47 237.18v0.7M79.33 313.32v-0.7M79.33 237.18v0.7M80.09 313.32v-0.7M80.09 237.18v0.7M85.23 313.32v-0.7M85.23 237.18v0.7M87.84 313.32v-0.7M87.84 237.18v0.7M89.69 313.32v-0.7M89.69 237.18v0.7M91.13 313.32v-0.7M91.13 237.18v0.7M92.3 313.32v-0.7M92.3 237.18v0.7M93.3 313.32v-0.7M93.3 237.18v0.7M94.16 313.32v-0.7M94.16 237.18v0.7M94.91 313.32v-0.7M94.91 237.18v0.7M100.06 313.32v-0.7M100.06 237.18v0.7M102.67 313.32v-0.7M102.67 237.18v0.7M104.52 313.32v-0.7M104.52 237.18v0.7M105.96 313.32v-0.7M105.96 237.18v0.7M107.13 313.32v-0.7M107.13 237.18v0.7M108.12 313.32v-0.7M108.12 237.18v0.7M108.98 313.32v-0.7M108.98 237.18v0.7M109.74 313.32v-0.7M109.74 237.18v0.7M114.89 313.32v-0.7M114.89 237.18v0.7M117.5 313.32v-0.7M117.5 237.18v0.7M119.35 313.32v-0.7M119.35 237.18v0.7M120.79 313.32v-0.7M120.79 237.18v0.7M121.96 313.32v-0.7M121.96 237.18v0.7M122.95 313.32v-0.7M122.95 237.18v0.7M123.81 313.32v-0.7M123.81 237.18v0.7M124.57 313.32v-0.7M124.57 237.18v0.7M21.45 244.78h0.7M21.45 242.86h0.7M21.45 241.5h0.7M21.45 240.45h0.7M21.45 239.59h0.7M21.45 238.86h0.7M21.45 238.23h0.7M21.45 237.67h0.7M21.45 255.66h0.7M21.45 253.74h0.7M21.45 252.38h0.7M21.45 251.33h0.7M21.45 250.47h0.7M21.45 249.74h0.7M21.45 249.11h0.7M21.45 248.55h0.7M21.45 266.54h0.7M21.45 264.62h0.7M21.45 263.26h0.7M21.45 262.21h0.7M21.45 261.35h0.7M21.45 260.62h0.7M21.45 259.99h0.7M21.45 259.43h0.7M21.45 277.41h0.7M21.45 275.5h0.7M21.45 274.14h0.7M21.45 273.09h0.7M21.45 272.22h0.7M21.45 271.5h0.7M21.45 270.86h0.7M21.45 270.31h0.7M21.45 288.29h0.7M21.45 286.38h0.7M21.45 285.02h0.7M21.45 283.96h0.7M21.45 283.1h0.7M21.45 282.37h0.7M21.45 281.74h0.7M21.45 281.19h0.7M21.45 299.17h0.7M21.45 297.26h0.7M21.45 295.9h0.7M21.45 294.84h0.7M21.45 293.98h0.7M21.45 293.25h0.7M21.45 292.62h0.7M21.45 292.07h0.7M21.45 310.05h0.7M21.45 308.13h0.7M21.45 306.78h0.7M21.45 305.72h0.7M21.45 304.86h0.7M21.45 304.13h0.7M21.45 303.5h0.7M21.45 302.94h0.7" fill="none" stroke="#444" stroke-width="0.35"/>
<path d="M21.45 313.62v-1.5M21.45 236.88v1.5M36.28 313.62v-1.5M36.28 236.88v1.5M51.11 313.62v-1.5M51.11 236.88v1.5M65.94 313.62v-1.5M65.94 236.88v1.5M80.76 313.62v-1.5M80.76 236.88v1.5M95.59 313.62v-1.5M95.59 236.88v1.5M110.42 313.62v-1.5M110.42 236.88v1.5M125.25 313.62v-1.5M125.25 236.88v1.5M21.15 237.18h1.5M21.15 248.05h1.5M21.15 258.93h1.5M21.15 269.81h1.5M21.15 280.69h1.5M21.15 291.57h1.5M21.15 302.45h1.5M21.15 313.32h1.5" fill="none" stroke="#333" stroke-width="0.55"/>
<path d="M125.55 237.18h-1.5M125.25 240.98h-0.7M125.55 244.79h-1.5M125.25 248.6h-0.7M125.55 252.41h-1.5M125.25 256.21h-0.7M125.55 260.02h-1.5M125.25 263.83h-0.7M125.55 267.63h-1.5M125.25 271.44h-0.7M125.55 275.25h-1.5M125.25 279.06h-0.7M125.55 282.87h-1.5M125.25 286.67h-0.7M125.55 290.48h-1.5M125.25 294.29h-0.7M125.55 298.09h-1.5M125.25 301.9h-0.7M125.55 305.71h-1.5M125.25 309.52h-0.7M125.55 313.32h-1.5" fill="none" stroke="#4444ff" stroke-width="0.5"/>
<g fill="#444" stroke="#444" stroke-width="0.06"><text x="18.95" y="238.38" text-anchor="end" font-size="3.1">10<tspan font-size="2.11" dy="-1.5">11</tspan></text><text x="18.95" y="249.25" text-anchor="end" font-size="3.1">10<tspan font-size="2.11" dy="-1.5">10</tspan></text><text x="18.95" y="260.13" text-anchor="end" font-size="3.1">10<tspan font-size="2.11" dy="-1.5">9</tspan></text><text x="18.95" y="271.01" text-anchor="end" font-size="3.1">10<tspan font-size="2.11" dy="-1.5">8</tspan></text><text x="18.95" y="281.89" text-anchor="end" font-size="3.1">10<tspan font-size="2.11" dy="-1.5">7</tspan></text><text x="18.95" y="292.77" text-anchor="end" font-size="3.1">10<tspan font-size="2.11" dy="-1.5">6</tspan></text><text x="18.95" y="303.65" text-anchor="end" font-size="3.1">10<tspan font-size="2.11" dy="-1.5">5</tspan></text><text x="18.95" y="314.52" text-anchor="end" font-size="3.1">10<tspan font-size="2.11" dy="-1.5">4</tspan></text><text x="21.45" y="319.12" text-anchor="middle" font-size="3.1">10<tspan font-size="2.11" dy="-1.5">-2</tspan></text><text x="36.28" y="319.12" text-anchor="middle" font-size="3.1">10<tspan font-size="2.11" dy="-1.5">-1</tspan></text><text x="51.11" y="319.12" text-anchor="middle" font-size="3.1">10<tspan font-size="2.11" dy="-1.5">0</tspan></text><text x="65.94" y="319.12" text-anchor="middle" font-size="3.1">10<tspan font-size="2.11" dy="-1.5">1</tspan></text><text x="80.76" y="319.12" text-anchor="middle" font-size="3.1">10<tspan font-size="2.11" dy="-1.5">2</tspan></text><text x="95.59" y="319.12" text-anchor="middle" font-size="3.1">10<tspan font-size="2.11" dy="-1.5">3</tspan></text><text x="110.42" y="319.12" text-anchor="middle" font-size="3.1">10<tspan font-size="2.11" dy="-1.5">4</tspan></text><text x="125.25" y="319.12" text-anchor="middle" font-size="3.1">10<tspan font-size="2.11" dy="-1.5">5</tspan></text></g>
<g fill="#2222ee" stroke="#2222ee" stroke-width="0.1"><text x="127.85" y="238.33" font-size="3.1">100</text><text x="127.85" y="245.94" font-size="3.1">90</text><text x="127.85" y="253.56" font-size="3.1">80</text><text x="127.85" y="261.17" font-size="3.1">70</text><text x="127.85" y="268.78" font-size="3.1">60</text><text x="127.85" y="276.4" font-size="3.1">50</text><text x="127.85" y="284.01" font-size="3.1">40</text><text x="127.85" y="291.63" font-size="3.1">30</text><text x="127.85" y="299.24" font-size="3.1">20</text><text x="127.85" y="306.86" font-size="3.1">10</text><text x="127.85" y="314.47" font-size="3.1">0</text></g>
<text x="72.5" y="235.18" text-anchor="middle" font-size="4.1" fill="#111" stroke="#111" stroke-width="0.13">1500 h</text>
<text x="73.35" y="326.12" text-anchor="middle" font-size="4.3" fill="#111" stroke="#111" stroke-width="0.13">Freq. [Hz]</text>
<text transform="translate(8.15 278.45) rotate(-90)" text-anchor="middle" font-size="4.2" fill="#111" stroke="#111" stroke-width="0.13">|Z| [ohm·cm<tspan font-size="2.9" dy="-1.4">2</tspan><tspan dy="1.4">]</tspan></text>
<text transform="translate(138.35 277.55) rotate(-90)" text-anchor="middle" font-size="4.1" fill="#111" stroke="#111" stroke-width="0.13">- Phase [°]</text>
<polyline fill="none" stroke="#777" stroke-width="0.55" points="177.8,265.9 180.73,265.9 183.67,265.9 186.6,265.93 189.54,266.12 192.47,266.26 195.41,266.52 198.34,266.63 201.27,266.82 204.21,267.05 207.14,267.58 210.08,268.26 213.01,269.31 215.95,270.8 218.88,272.7 221.81,274.26 224.75,275.93 227.68,277.95 230.62,279.81 233.55,282.1 236.49,284.03 239.42,286.1 242.35,288.29 245.29,290.56 248.22,292.44 251.16,294.69 254.09,296.73 257.03,298.81 259.96,300.86 262.89,302.44 265.83,303.7 268.76,304.85 271.7,305.76 274.63,306.53 277.57,307.31 280.5,308.2"/>
<path d="M176.95 265.05h1.7v1.7h-1.7zM179.88 265.05h1.7v1.7h-1.7zM182.82 265.05h1.7v1.7h-1.7zM185.75 265.08h1.7v1.7h-1.7zM188.69 265.27h1.7v1.7h-1.7zM191.62 265.41h1.7v1.7h-1.7zM194.56 265.67h1.7v1.7h-1.7zM197.49 265.78h1.7v1.7h-1.7zM200.42 265.97h1.7v1.7h-1.7zM203.36 266.2h1.7v1.7h-1.7zM206.29 266.73h1.7v1.7h-1.7zM209.23 267.41h1.7v1.7h-1.7zM212.16 268.46h1.7v1.7h-1.7zM215.1 269.95h1.7v1.7h-1.7zM218.03 271.85h1.7v1.7h-1.7zM220.96 273.41h1.7v1.7h-1.7zM223.9 275.08h1.7v1.7h-1.7zM226.83 277.1h1.7v1.7h-1.7zM229.77 278.96h1.7v1.7h-1.7zM232.7 281.25h1.7v1.7h-1.7zM235.64 283.18h1.7v1.7h-1.7zM238.57 285.25h1.7v1.7h-1.7zM241.5 287.44h1.7v1.7h-1.7zM244.44 289.71h1.7v1.7h-1.7zM247.37 291.59h1.7v1.7h-1.7zM250.31 293.84h1.7v1.7h-1.7zM253.24 295.88h1.7v1.7h-1.7zM256.18 297.96h1.7v1.7h-1.7zM259.11 300.01h1.7v1.7h-1.7zM262.04 301.59h1.7v1.7h-1.7zM264.98 302.85h1.7v1.7h-1.7zM267.91 304h1.7v1.7h-1.7zM270.85 304.91h1.7v1.7h-1.7zM273.78 305.68h1.7v1.7h-1.7zM276.72 306.46h1.7v1.7h-1.7zM279.65 307.35h1.7v1.7h-1.7z" fill="#000"/>
<polyline fill="none" stroke="#8c8cff" stroke-width="0.65" points="177.8,308.4 180.73,310.1 183.67,310.1 186.6,311.2 189.54,311.7 192.47,309.3 195.41,307.1 198.34,305.4 201.27,301.9 204.21,297 207.14,290.4 210.08,282.5 213.01,273.89 215.95,266.82 218.88,261.35 221.81,257.31 224.75,254.96 227.68,252.76 230.62,251.34 233.55,250.12 236.49,249.49 239.42,249.01 242.35,249 245.29,249.29 248.22,249.88 251.16,250.95 254.09,252.67 257.03,255.06 259.96,258.72 262.89,263.28 265.83,268.3 268.76,273.06 271.7,277.27 274.63,279.28 277.57,279.23 280.5,276.6"/>
<path d="M176.8 307.4h2v2h-2zM179.73 309.1h2v2h-2zM182.67 309.1h2v2h-2zM185.6 310.2h2v2h-2zM188.54 310.7h2v2h-2zM191.47 308.3h2v2h-2zM194.41 306.1h2v2h-2zM197.34 304.4h2v2h-2zM200.27 300.9h2v2h-2zM203.21 296h2v2h-2zM206.14 289.4h2v2h-2zM209.08 281.5h2v2h-2zM212.01 272.89h2v2h-2zM214.95 265.82h2v2h-2zM217.88 260.35h2v2h-2zM220.81 256.31h2v2h-2zM223.75 253.96h2v2h-2zM226.68 251.76h2v2h-2zM229.62 250.34h2v2h-2zM232.55 249.12h2v2h-2zM235.49 248.49h2v2h-2zM238.42 248.01h2v2h-2zM241.35 248h2v2h-2zM244.29 248.29h2v2h-2zM247.22 248.88h2v2h-2zM250.16 249.95h2v2h-2zM253.09 251.67h2v2h-2zM256.03 254.06h2v2h-2zM258.96 257.72h2v2h-2zM261.89 262.28h2v2h-2zM264.83 267.3h2v2h-2zM267.76 272.06h2v2h-2zM270.7 276.27h2v2h-2zM273.63 278.28h2v2h-2zM276.57 278.23h2v2h-2zM279.5 275.6h2v2h-2z" fill="#0000ee"/>
<path d="M177.1 312.68V236.53H280.9M177.1 312.68H280.9" fill="none" stroke="#4a4a4a" stroke-width="0.5"/>
<path d="M280.9 236.53V312.68" fill="none" stroke="#5555ff" stroke-width="0.5"/>
<path d="M181.56 312.68v-0.7M181.56 236.53v0.7M184.18 312.68v-0.7M184.18 236.53v0.7M186.03 312.68v-0.7M186.03 236.53v0.7M187.46 312.68v-0.7M187.46 236.53v0.7M188.64 312.68v-0.7M188.64 236.53v0.7M189.63 312.68v-0.7M189.63 236.53v0.7M190.49 312.68v-0.7M190.49 236.53v0.7M191.25 312.68v-0.7M191.25 236.53v0.7M196.39 312.68v-0.7M196.39 236.53v0.7M199 312.68v-0.7M199 236.53v0.7M200.86 312.68v-0.7M200.86 236.53v0.7M202.29 312.68v-0.7M202.29 236.53v0.7M203.47 312.68v-0.7M203.47 236.53v0.7M204.46 312.68v-0.7M204.46 236.53v0.7M205.32 312.68v-0.7M205.32 236.53v0.7M206.08 312.68v-0.7M206.08 236.53v0.7M211.22 312.68v-0.7M211.22 236.53v0.7M213.83 312.68v-0.7M213.83 236.53v0.7M215.68 312.68v-0.7M215.68 236.53v0.7M217.12 312.68v-0.7M217.12 236.53v0.7M218.3 312.68v-0.7M218.3 236.53v0.7M219.29 312.68v-0.7M219.29 236.53v0.7M220.15 312.68v-0.7M220.15 236.53v0.7M220.91 312.68v-0.7M220.91 236.53v0.7M226.05 312.68v-0.7M226.05 236.53v0.7M228.66 312.68v-0.7M228.66 236.53v0.7M230.51 312.68v-0.7M230.51 236.53v0.7M231.95 312.68v-0.7M231.95 236.53v0.7M233.12 312.68v-0.7M233.12 236.53v0.7M234.12 312.68v-0.7M234.12 236.53v0.7M234.98 312.68v-0.7M234.98 236.53v0.7M235.74 312.68v-0.7M235.74 236.53v0.7M240.88 312.68v-0.7M240.88 236.53v0.7M243.49 312.68v-0.7M243.49 236.53v0.7M245.34 312.68v-0.7M245.34 236.53v0.7M246.78 312.68v-0.7M246.78 236.53v0.7M247.95 312.68v-0.7M247.95 236.53v0.7M248.95 312.68v-0.7M248.95 236.53v0.7M249.81 312.68v-0.7M249.81 236.53v0.7M250.56 312.68v-0.7M250.56 236.53v0.7M255.71 312.68v-0.7M255.71 236.53v0.7M258.32 312.68v-0.7M258.32 236.53v0.7M260.17 312.68v-0.7M260.17 236.53v0.7M261.61 312.68v-0.7M261.61 236.53v0.7M262.78 312.68v-0.7M262.78 236.53v0.7M263.77 312.68v-0.7M263.77 236.53v0.7M264.63 312.68v-0.7M264.63 236.53v0.7M265.39 312.68v-0.7M265.39 236.53v0.7M270.54 312.68v-0.7M270.54 236.53v0.7M273.15 312.68v-0.7M273.15 236.53v0.7M275 312.68v-0.7M275 236.53v0.7M276.44 312.68v-0.7M276.44 236.53v0.7M277.61 312.68v-0.7M277.61 236.53v0.7M278.6 312.68v-0.7M278.6 236.53v0.7M279.46 312.68v-0.7M279.46 236.53v0.7M280.22 312.68v-0.7M280.22 236.53v0.7M177.1 244.13h0.7M177.1 242.21h0.7M177.1 240.85h0.7M177.1 239.8h0.7M177.1 238.94h0.7M177.1 238.21h0.7M177.1 237.58h0.7M177.1 237.02h0.7M177.1 255.01h0.7M177.1 253.09h0.7M177.1 251.73h0.7M177.1 250.68h0.7M177.1 249.82h0.7M177.1 249.09h0.7M177.1 248.46h0.7M177.1 247.9h0.7M177.1 265.89h0.7M177.1 263.97h0.7M177.1 262.61h0.7M177.1 261.56h0.7M177.1 260.7h0.7M177.1 259.97h0.7M177.1 259.34h0.7M177.1 258.78h0.7M177.1 276.76h0.7M177.1 274.85h0.7M177.1 273.49h0.7M177.1 272.44h0.7M177.1 271.57h0.7M177.1 270.85h0.7M177.1 270.21h0.7M177.1 269.66h0.7M177.1 287.64h0.7M177.1 285.73h0.7M177.1 284.37h0.7M177.1 283.31h0.7M177.1 282.45h0.7M177.1 281.72h0.7M177.1 281.09h0.7M177.1 280.54h0.7M177.1 298.52h0.7M177.1 296.61h0.7M177.1 295.25h0.7M177.1 294.19h0.7M177.1 293.33h0.7M177.1 292.6h0.7M177.1 291.97h0.7M177.1 291.42h0.7M177.1 309.4h0.7M177.1 307.48h0.7M177.1 306.13h0.7M177.1 305.07h0.7M177.1 304.21h0.7M177.1 303.48h0.7M177.1 302.85h0.7M177.1 302.29h0.7" fill="none" stroke="#444" stroke-width="0.35"/>
<path d="M177.1 312.98v-1.5M177.1 236.22v1.5M191.93 312.98v-1.5M191.93 236.22v1.5M206.76 312.98v-1.5M206.76 236.22v1.5M221.59 312.98v-1.5M221.59 236.22v1.5M236.41 312.98v-1.5M236.41 236.22v1.5M251.24 312.98v-1.5M251.24 236.22v1.5M266.07 312.98v-1.5M266.07 236.22v1.5M280.9 312.98v-1.5M280.9 236.22v1.5M176.8 236.53h1.5M176.8 247.4h1.5M176.8 258.28h1.5M176.8 269.16h1.5M176.8 280.04h1.5M176.8 290.92h1.5M176.8 301.8h1.5M176.8 312.68h1.5" fill="none" stroke="#333" stroke-width="0.55"/>
<path d="M281.2 236.53h-1.5M280.9 240.33h-0.7M281.2 244.14h-1.5M280.9 247.95h-0.7M281.2 251.75h-1.5M280.9 255.56h-0.7M281.2 259.37h-1.5M280.9 263.18h-0.7M281.2 266.99h-1.5M280.9 270.79h-0.7M281.2 274.6h-1.5M280.9 278.41h-0.7M281.2 282.22h-1.5M280.9 286.02h-0.7M281.2 289.83h-1.5M280.9 293.64h-0.7M281.2 297.44h-1.5M280.9 301.25h-0.7M281.2 305.06h-1.5M280.9 308.87h-0.7M281.2 312.68h-1.5" fill="none" stroke="#4444ff" stroke-width="0.5"/>
<g fill="#444" stroke="#444" stroke-width="0.06"><text x="174.6" y="237.72" text-anchor="end" font-size="3.1">10<tspan font-size="2.11" dy="-1.5">11</tspan></text><text x="174.6" y="248.6" text-anchor="end" font-size="3.1">10<tspan font-size="2.11" dy="-1.5">10</tspan></text><text x="174.6" y="259.48" text-anchor="end" font-size="3.1">10<tspan font-size="2.11" dy="-1.5">9</tspan></text><text x="174.6" y="270.36" text-anchor="end" font-size="3.1">10<tspan font-size="2.11" dy="-1.5">8</tspan></text><text x="174.6" y="281.24" text-anchor="end" font-size="3.1">10<tspan font-size="2.11" dy="-1.5">7</tspan></text><text x="174.6" y="292.12" text-anchor="end" font-size="3.1">10<tspan font-size="2.11" dy="-1.5">6</tspan></text><text x="174.6" y="303" text-anchor="end" font-size="3.1">10<tspan font-size="2.11" dy="-1.5">5</tspan></text><text x="174.6" y="313.88" text-anchor="end" font-size="3.1">10<tspan font-size="2.11" dy="-1.5">4</tspan></text><text x="177.1" y="318.48" text-anchor="middle" font-size="3.1">10<tspan font-size="2.11" dy="-1.5">-2</tspan></text><text x="191.93" y="318.48" text-anchor="middle" font-size="3.1">10<tspan font-size="2.11" dy="-1.5">-1</tspan></text><text x="206.76" y="318.48" text-anchor="middle" font-size="3.1">10<tspan font-size="2.11" dy="-1.5">0</tspan></text><text x="221.59" y="318.48" text-anchor="middle" font-size="3.1">10<tspan font-size="2.11" dy="-1.5">1</tspan></text><text x="236.41" y="318.48" text-anchor="middle" font-size="3.1">10<tspan font-size="2.11" dy="-1.5">2</tspan></text><text x="251.24" y="318.48" text-anchor="middle" font-size="3.1">10<tspan font-size="2.11" dy="-1.5">3</tspan></text><text x="266.07" y="318.48" text-anchor="middle" font-size="3.1">10<tspan font-size="2.11" dy="-1.5">4</tspan></text><text x="280.9" y="318.48" text-anchor="middle" font-size="3.1">10<tspan font-size="2.11" dy="-1.5">5</tspan></text></g>
<g fill="#2222ee" stroke="#2222ee" stroke-width="0.1"><text x="283.5" y="237.68" font-size="3.1">100</text><text x="283.5" y="245.29" font-size="3.1">90</text><text x="283.5" y="252.91" font-size="3.1">80</text><text x="283.5" y="260.52" font-size="3.1">70</text><text x="283.5" y="268.13" font-size="3.1">60</text><text x="283.5" y="275.75" font-size="3.1">50</text><text x="283.5" y="283.37" font-size="3.1">40</text><text x="283.5" y="290.98" font-size="3.1">30</text><text x="283.5" y="298.59" font-size="3.1">20</text><text x="283.5" y="306.21" font-size="3.1">10</text><text x="283.5" y="313.82" font-size="3.1">0</text></g>
<text x="229" y="234.98" text-anchor="middle" font-size="4.1" fill="#111" stroke="#111" stroke-width="0.13">1750 h</text>
<text x="229" y="325.48" text-anchor="middle" font-size="4.3" fill="#111" stroke="#111" stroke-width="0.13">Freq. [Hz]</text>
<text transform="translate(163.8 277.8) rotate(-90)" text-anchor="middle" font-size="4.2" fill="#111" stroke="#111" stroke-width="0.13">|Z| [ohm·cm<tspan font-size="2.9" dy="-1.4">2</tspan><tspan dy="1.4">]</tspan></text>
<text transform="translate(294 276.9) rotate(-90)" text-anchor="middle" font-size="4.1" fill="#111" stroke="#111" stroke-width="0.13">- Phase [°]</text>
<polyline fill="none" stroke="#777" stroke-width="0.55" points="333.4,259.8 336.33,259.84 339.27,259.88 342.2,259.92 345.14,259.96 348.07,260.04 351.01,260.31 353.94,260.41 356.87,260.51 359.81,260.71 362.74,261.11 365.68,261.6 368.61,262.85 371.55,264.13 374.48,266.06 377.41,268.15 380.35,270.13 383.28,272.05 386.22,273.81 389.15,276.04 392.09,278.09 395.02,280.09 397.95,282.34 400.89,284.26 403.82,286.37 406.76,288.5 409.69,290.27 412.63,292.07 415.56,293.71 418.49,295.15 421.43,296.32 424.36,297.4 427.3,298.51 430.23,299.54 433.17,300.81 436.1,302.1"/>
<path d="M332.55 258.95h1.7v1.7h-1.7zM335.48 258.99h1.7v1.7h-1.7zM338.42 259.03h1.7v1.7h-1.7zM341.35 259.07h1.7v1.7h-1.7zM344.29 259.11h1.7v1.7h-1.7zM347.22 259.19h1.7v1.7h-1.7zM350.16 259.46h1.7v1.7h-1.7zM353.09 259.56h1.7v1.7h-1.7zM356.02 259.66h1.7v1.7h-1.7zM358.96 259.86h1.7v1.7h-1.7zM361.89 260.26h1.7v1.7h-1.7zM364.83 260.75h1.7v1.7h-1.7zM367.76 262h1.7v1.7h-1.7zM370.7 263.28h1.7v1.7h-1.7zM373.63 265.21h1.7v1.7h-1.7zM376.56 267.3h1.7v1.7h-1.7zM379.5 269.28h1.7v1.7h-1.7zM382.43 271.2h1.7v1.7h-1.7zM385.37 272.96h1.7v1.7h-1.7zM388.3 275.19h1.7v1.7h-1.7zM391.24 277.24h1.7v1.7h-1.7zM394.17 279.24h1.7v1.7h-1.7zM397.1 281.49h1.7v1.7h-1.7zM400.04 283.41h1.7v1.7h-1.7zM402.97 285.52h1.7v1.7h-1.7zM405.91 287.65h1.7v1.7h-1.7zM408.84 289.42h1.7v1.7h-1.7zM411.78 291.22h1.7v1.7h-1.7zM414.71 292.86h1.7v1.7h-1.7zM417.64 294.3h1.7v1.7h-1.7zM420.58 295.47h1.7v1.7h-1.7zM423.51 296.55h1.7v1.7h-1.7zM426.45 297.66h1.7v1.7h-1.7zM429.38 298.69h1.7v1.7h-1.7zM432.32 299.96h1.7v1.7h-1.7zM435.25 301.25h1.7v1.7h-1.7z" fill="#000"/>
<polyline fill="none" stroke="#8c8cff" stroke-width="0.65" points="333.4,306.2 336.33,306.2 339.27,306.6 342.2,306.4 345.14,304.7 348.07,304 351.01,303.2 353.94,300.4 356.87,297.8 359.81,292.5 362.74,286.5 365.68,278.1 368.61,268.7 371.55,260.9 374.48,254.27 377.41,249.58 380.35,246.56 383.28,244.46 386.22,243.1 389.15,242.49 392.09,242.02 395.02,242 397.95,242.54 400.89,243.31 403.82,244.71 406.76,247.09 409.69,250.46 412.63,254.3 415.56,258.93 418.49,263.52 421.43,266.99 424.36,268.47 427.3,268.37 430.23,267.41 433.17,266.06 436.1,263.4"/>
<path d="M332.4 305.2h2v2h-2zM335.33 305.2h2v2h-2zM338.27 305.6h2v2h-2zM341.2 305.4h2v2h-2zM344.14 303.7h2v2h-2zM347.07 303h2v2h-2zM350.01 302.2h2v2h-2zM352.94 299.4h2v2h-2zM355.87 296.8h2v2h-2zM358.81 291.5h2v2h-2zM361.74 285.5h2v2h-2zM364.68 277.1h2v2h-2zM367.61 267.7h2v2h-2zM370.55 259.9h2v2h-2zM373.48 253.27h2v2h-2zM376.41 248.58h2v2h-2zM379.35 245.56h2v2h-2zM382.28 243.46h2v2h-2zM385.22 242.1h2v2h-2zM388.15 241.49h2v2h-2zM391.09 241.02h2v2h-2zM394.02 241h2v2h-2zM396.95 241.54h2v2h-2zM399.89 242.31h2v2h-2zM402.82 243.71h2v2h-2zM405.76 246.09h2v2h-2zM408.69 249.46h2v2h-2zM411.63 253.3h2v2h-2zM414.56 257.93h2v2h-2zM417.49 262.52h2v2h-2zM420.43 265.99h2v2h-2zM423.36 267.47h2v2h-2zM426.3 267.37h2v2h-2zM429.23 266.41h2v2h-2zM432.17 265.06h2v2h-2zM435.1 262.4h2v2h-2z" fill="#0000ee"/>
<path d="M332.7 307.02V230.88H436.5M332.7 307.02H436.5" fill="none" stroke="#4a4a4a" stroke-width="0.5"/>
<path d="M436.5 230.88V307.02" fill="none" stroke="#5555ff" stroke-width="0.5"/>
<path d="M337.16 307.02v-0.7M337.16 230.88v0.7M339.78 307.02v-0.7M339.78 230.88v0.7M341.63 307.02v-0.7M341.63 230.88v0.7M343.06 307.02v-0.7M343.06 230.88v0.7M344.24 307.02v-0.7M344.24 230.88v0.7M345.23 307.02v-0.7M345.23 230.88v0.7M346.09 307.02v-0.7M346.09 230.88v0.7M346.85 307.02v-0.7M346.85 230.88v0.7M351.99 307.02v-0.7M351.99 230.88v0.7M354.6 307.02v-0.7M354.6 230.88v0.7M356.46 307.02v-0.7M356.46 230.88v0.7M357.89 307.02v-0.7M357.89 230.88v0.7M359.07 307.02v-0.7M359.07 230.88v0.7M360.06 307.02v-0.7M360.06 230.88v0.7M360.92 307.02v-0.7M360.92 230.88v0.7M361.68 307.02v-0.7M361.68 230.88v0.7M366.82 307.02v-0.7M366.82 230.88v0.7M369.43 307.02v-0.7M369.43 230.88v0.7M371.28 307.02v-0.7M371.28 230.88v0.7M372.72 307.02v-0.7M372.72 230.88v0.7M373.9 307.02v-0.7M373.9 230.88v0.7M374.89 307.02v-0.7M374.89 230.88v0.7M375.75 307.02v-0.7M375.75 230.88v0.7M376.51 307.02v-0.7M376.51 230.88v0.7M381.65 307.02v-0.7M381.65 230.88v0.7M384.26 307.02v-0.7M384.26 230.88v0.7M386.11 307.02v-0.7M386.11 230.88v0.7M387.55 307.02v-0.7M387.55 230.88v0.7M388.72 307.02v-0.7M388.72 230.88v0.7M389.72 307.02v-0.7M389.72 230.88v0.7M390.58 307.02v-0.7M390.58 230.88v0.7M391.34 307.02v-0.7M391.34 230.88v0.7M396.48 307.02v-0.7M396.48 230.88v0.7M399.09 307.02v-0.7M399.09 230.88v0.7M400.94 307.02v-0.7M400.94 230.88v0.7M402.38 307.02v-0.7M402.38 230.88v0.7M403.55 307.02v-0.7M403.55 230.88v0.7M404.55 307.02v-0.7M404.55 230.88v0.7M405.41 307.02v-0.7M405.41 230.88v0.7M406.16 307.02v-0.7M406.16 230.88v0.7M411.31 307.02v-0.7M411.31 230.88v0.7M413.92 307.02v-0.7M413.92 230.88v0.7M415.77 307.02v-0.7M415.77 230.88v0.7M417.21 307.02v-0.7M417.21 230.88v0.7M418.38 307.02v-0.7M418.38 230.88v0.7M419.37 307.02v-0.7M419.37 230.88v0.7M420.23 307.02v-0.7M420.23 230.88v0.7M420.99 307.02v-0.7M420.99 230.88v0.7M426.14 307.02v-0.7M426.14 230.88v0.7M428.75 307.02v-0.7M428.75 230.88v0.7M430.6 307.02v-0.7M430.6 230.88v0.7M432.04 307.02v-0.7M432.04 230.88v0.7M433.21 307.02v-0.7M433.21 230.88v0.7M434.2 307.02v-0.7M434.2 230.88v0.7M435.06 307.02v-0.7M435.06 230.88v0.7M435.82 307.02v-0.7M435.82 230.88v0.7M332.7 238.48h0.7M332.7 236.56h0.7M332.7 235.2h0.7M332.7 234.15h0.7M332.7 233.29h0.7M332.7 232.56h0.7M332.7 231.93h0.7M332.7 231.37h0.7M332.7 249.36h0.7M332.7 247.44h0.7M332.7 246.08h0.7M332.7 245.03h0.7M332.7 244.17h0.7M332.7 243.44h0.7M332.7 242.81h0.7M332.7 242.25h0.7M332.7 260.24h0.7M332.7 258.32h0.7M332.7 256.96h0.7M332.7 255.91h0.7M332.7 255.05h0.7M332.7 254.32h0.7M332.7 253.69h0.7M332.7 253.13h0.7M332.7 271.11h0.7M332.7 269.2h0.7M332.7 267.84h0.7M332.7 266.79h0.7M332.7 265.92h0.7M332.7 265.2h0.7M332.7 264.56h0.7M332.7 264.01h0.7M332.7 281.99h0.7M332.7 280.08h0.7M332.7 278.72h0.7M332.7 277.66h0.7M332.7 276.8h0.7M332.7 276.07h0.7M332.7 275.44h0.7M332.7 274.89h0.7M332.7 292.87h0.7M332.7 290.96h0.7M332.7 289.6h0.7M332.7 288.54h0.7M332.7 287.68h0.7M332.7 286.95h0.7M332.7 286.32h0.7M332.7 285.77h0.7M332.7 303.75h0.7M332.7 301.83h0.7M332.7 300.48h0.7M332.7 299.42h0.7M332.7 298.56h0.7M332.7 297.83h0.7M332.7 297.2h0.7M332.7 296.64h0.7" fill="none" stroke="#444" stroke-width="0.35"/>
<path d="M332.7 307.32v-1.5M332.7 230.57v1.5M347.53 307.32v-1.5M347.53 230.57v1.5M362.36 307.32v-1.5M362.36 230.57v1.5M377.19 307.32v-1.5M377.19 230.57v1.5M392.01 307.32v-1.5M392.01 230.57v1.5M406.84 307.32v-1.5M406.84 230.57v1.5M421.67 307.32v-1.5M421.67 230.57v1.5M436.5 307.32v-1.5M436.5 230.57v1.5M332.4 230.88h1.5M332.4 241.75h1.5M332.4 252.63h1.5M332.4 263.51h1.5M332.4 274.39h1.5M332.4 285.27h1.5M332.4 296.15h1.5M332.4 307.02h1.5" fill="none" stroke="#333" stroke-width="0.55"/>
<path d="M436.8 230.88h-1.5M436.5 234.68h-0.7M436.8 238.49h-1.5M436.5 242.3h-0.7M436.8 246.1h-1.5M436.5 249.91h-0.7M436.8 253.72h-1.5M436.5 257.53h-0.7M436.8 261.33h-1.5M436.5 265.14h-0.7M436.8 268.95h-1.5M436.5 272.76h-0.7M436.8 276.56h-1.5M436.5 280.37h-0.7M436.8 284.18h-1.5M436.5 287.99h-0.7M436.8 291.79h-1.5M436.5 295.6h-0.7M436.8 299.41h-1.5M436.5 303.22h-0.7M436.8 307.02h-1.5" fill="none" stroke="#4444ff" stroke-width="0.5"/>
<g fill="#444" stroke="#444" stroke-width="0.06"><text x="330.2" y="232.07" text-anchor="end" font-size="3.1">10<tspan font-size="2.11" dy="-1.5">11</tspan></text><text x="330.2" y="242.95" text-anchor="end" font-size="3.1">10<tspan font-size="2.11" dy="-1.5">10</tspan></text><text x="330.2" y="253.83" text-anchor="end" font-size="3.1">10<tspan font-size="2.11" dy="-1.5">9</tspan></text><text x="330.2" y="264.71" text-anchor="end" font-size="3.1">10<tspan font-size="2.11" dy="-1.5">8</tspan></text><text x="330.2" y="275.59" text-anchor="end" font-size="3.1">10<tspan font-size="2.11" dy="-1.5">7</tspan></text><text x="330.2" y="286.47" text-anchor="end" font-size="3.1">10<tspan font-size="2.11" dy="-1.5">6</tspan></text><text x="330.2" y="297.35" text-anchor="end" font-size="3.1">10<tspan font-size="2.11" dy="-1.5">5</tspan></text><text x="330.2" y="308.22" text-anchor="end" font-size="3.1">10<tspan font-size="2.11" dy="-1.5">4</tspan></text><text x="332.7" y="312.82" text-anchor="middle" font-size="3.1">10<tspan font-size="2.11" dy="-1.5">-2</tspan></text><text x="347.53" y="312.82" text-anchor="middle" font-size="3.1">10<tspan font-size="2.11" dy="-1.5">-1</tspan></text><text x="362.36" y="312.82" text-anchor="middle" font-size="3.1">10<tspan font-size="2.11" dy="-1.5">0</tspan></text><text x="377.19" y="312.82" text-anchor="middle" font-size="3.1">10<tspan font-size="2.11" dy="-1.5">1</tspan></text><text x="392.01" y="312.82" text-anchor="middle" font-size="3.1">10<tspan font-size="2.11" dy="-1.5">2</tspan></text><text x="406.84" y="312.82" text-anchor="middle" font-size="3.1">10<tspan font-size="2.11" dy="-1.5">3</tspan></text><text x="421.67" y="312.82" text-anchor="middle" font-size="3.1">10<tspan font-size="2.11" dy="-1.5">4</tspan></text><text x="436.5" y="312.82" text-anchor="middle" font-size="3.1">10<tspan font-size="2.11" dy="-1.5">5</tspan></text></g>
<g fill="#2222ee" stroke="#2222ee" stroke-width="0.1"><text x="439.1" y="232.03" font-size="3.1">100</text><text x="439.1" y="239.64" font-size="3.1">90</text><text x="439.1" y="247.25" font-size="3.1">80</text><text x="439.1" y="254.87" font-size="3.1">70</text><text x="439.1" y="262.48" font-size="3.1">60</text><text x="439.1" y="270.1" font-size="3.1">50</text><text x="439.1" y="277.71" font-size="3.1">40</text><text x="439.1" y="285.33" font-size="3.1">30</text><text x="439.1" y="292.94" font-size="3.1">20</text><text x="439.1" y="300.56" font-size="3.1">10</text><text x="439.1" y="308.17" font-size="3.1">0</text></g>
<text x="386" y="228.98" text-anchor="middle" font-size="4.1" fill="#111" stroke="#111" stroke-width="0.13">2000 h</text>
<text x="384.6" y="319.82" text-anchor="middle" font-size="4.3" fill="#111" stroke="#111" stroke-width="0.13">Freq. [Hz]</text>
<text transform="translate(319.4 272.15) rotate(-90)" text-anchor="middle" font-size="4.2" fill="#111" stroke="#111" stroke-width="0.13">|Z| [ohm·cm<tspan font-size="2.9" dy="-1.4">2</tspan><tspan dy="1.4">]</tspan></text>
<text transform="translate(449.6 271.25) rotate(-90)" text-anchor="middle" font-size="4.1" fill="#111" stroke="#111" stroke-width="0.13">- Phase [°]</text>
<polyline fill="none" stroke="#777" stroke-width="0.55" points="22.1,384.9 25.03,384.9 27.97,384.9 30.9,384.9 33.84,384.9 36.77,384.9 39.71,384.9 42.64,384.9 45.57,384.91 48.51,385.1 51.44,385.15 54.38,385.21 57.31,385.41 60.25,385.7 63.18,385.91 66.11,386.3 69.05,386.99 71.98,388.39 74.92,390.01 77.85,391.87 80.79,393.82 83.72,395.5 86.65,397.69 89.59,399.66 92.52,401.62 95.46,403.63 98.39,405.66 101.33,407.47 104.26,409.41 107.19,411.42 110.13,413.1 113.06,414.71 116,416.32 118.93,417.82 121.87,419.24 124.8,420.8"/>
<path d="M21.25 384.05h1.7v1.7h-1.7zM24.18 384.05h1.7v1.7h-1.7zM27.12 384.05h1.7v1.7h-1.7zM30.05 384.05h1.7v1.7h-1.7zM32.99 384.05h1.7v1.7h-1.7zM35.92 384.05h1.7v1.7h-1.7zM38.86 384.05h1.7v1.7h-1.7zM41.79 384.05h1.7v1.7h-1.7zM44.72 384.06h1.7v1.7h-1.7zM47.66 384.25h1.7v1.7h-1.7zM50.59 384.3h1.7v1.7h-1.7zM53.53 384.36h1.7v1.7h-1.7zM56.46 384.56h1.7v1.7h-1.7zM59.4 384.85h1.7v1.7h-1.7zM62.33 385.06h1.7v1.7h-1.7zM65.26 385.45h1.7v1.7h-1.7zM68.2 386.14h1.7v1.7h-1.7zM71.13 387.54h1.7v1.7h-1.7zM74.07 389.16h1.7v1.7h-1.7zM77 391.02h1.7v1.7h-1.7zM79.94 392.97h1.7v1.7h-1.7zM82.87 394.65h1.7v1.7h-1.7zM85.8 396.84h1.7v1.7h-1.7zM88.74 398.81h1.7v1.7h-1.7zM91.67 400.77h1.7v1.7h-1.7zM94.61 402.78h1.7v1.7h-1.7zM97.54 404.81h1.7v1.7h-1.7zM100.48 406.62h1.7v1.7h-1.7zM103.41 408.56h1.7v1.7h-1.7zM106.34 410.57h1.7v1.7h-1.7zM109.28 412.25h1.7v1.7h-1.7zM112.21 413.86h1.7v1.7h-1.7zM115.15 415.47h1.7v1.7h-1.7zM118.08 416.97h1.7v1.7h-1.7zM121.02 418.39h1.7v1.7h-1.7zM123.95 419.95h1.7v1.7h-1.7z" fill="#000"/>
<polyline fill="none" stroke="#8c8cff" stroke-width="0.65" points="22.1,420.6 25.03,419.1 27.97,418.6 30.9,417.7 33.84,414.8 36.77,411.6 39.71,406.7 42.64,400.4 45.57,392.2 48.51,383.4 51.44,375.4 54.38,368.39 57.31,364.39 60.25,361.47 63.18,359.46 66.11,358.1 69.05,357.49 71.98,356.89 74.92,356.61 77.85,356.3 80.79,356.2 83.72,356.47 86.65,356.87 89.59,357.33 92.52,358.1 95.46,359.31 98.39,360.87 101.33,362.93 104.26,365.43 107.19,367.8 110.13,369.33 113.06,370.41 116,371.76 118.93,373.56 121.87,375.17 124.8,376.5"/>
<path d="M21.1 419.6h2v2h-2zM24.03 418.1h2v2h-2zM26.97 417.6h2v2h-2zM29.9 416.7h2v2h-2zM32.84 413.8h2v2h-2zM35.77 410.6h2v2h-2zM38.71 405.7h2v2h-2zM41.64 399.4h2v2h-2zM44.57 391.2h2v2h-2zM47.51 382.4h2v2h-2zM50.44 374.4h2v2h-2zM53.38 367.39h2v2h-2zM56.31 363.39h2v2h-2zM59.25 360.47h2v2h-2zM62.18 358.46h2v2h-2zM65.11 357.1h2v2h-2zM68.05 356.49h2v2h-2zM70.98 355.89h2v2h-2zM73.92 355.61h2v2h-2zM76.85 355.3h2v2h-2zM79.79 355.2h2v2h-2zM82.72 355.47h2v2h-2zM85.65 355.87h2v2h-2zM88.59 356.33h2v2h-2zM91.52 357.1h2v2h-2zM94.46 358.31h2v2h-2zM97.39 359.87h2v2h-2zM100.33 361.93h2v2h-2zM103.26 364.43h2v2h-2zM106.19 366.8h2v2h-2zM109.13 368.33h2v2h-2zM112.06 369.41h2v2h-2zM115 370.76h2v2h-2zM117.93 372.56h2v2h-2zM120.87 374.17h2v2h-2zM123.8 375.5h2v2h-2z" fill="#0000ee"/>
<path d="M21.4 421.27V345.12H125.2M21.4 421.27H125.2" fill="none" stroke="#4a4a4a" stroke-width="0.5"/>
<path d="M125.2 345.12V421.27" fill="none" stroke="#5555ff" stroke-width="0.5"/>
<path d="M25.86 421.27v-0.7M25.86 345.12v0.7M28.48 421.27v-0.7M28.48 345.12v0.7M30.33 421.27v-0.7M30.33 345.12v0.7M31.76 421.27v-0.7M31.76 345.12v0.7M32.94 421.27v-0.7M32.94 345.12v0.7M33.93 421.27v-0.7M33.93 345.12v0.7M34.79 421.27v-0.7M34.79 345.12v0.7M35.55 421.27v-0.7M35.55 345.12v0.7M40.69 421.27v-0.7M40.69 345.12v0.7M43.3 421.27v-0.7M43.3 345.12v0.7M45.16 421.27v-0.7M45.16 345.12v0.7M46.59 421.27v-0.7M46.59 345.12v0.7M47.77 421.27v-0.7M47.77 345.12v0.7M48.76 421.27v-0.7M48.76 345.12v0.7M49.62 421.27v-0.7M49.62 345.12v0.7M50.38 421.27v-0.7M50.38 345.12v0.7M55.52 421.27v-0.7M55.52 345.12v0.7M58.13 421.27v-0.7M58.13 345.12v0.7M59.98 421.27v-0.7M59.98 345.12v0.7M61.42 421.27v-0.7M61.42 345.12v0.7M62.6 421.27v-0.7M62.6 345.12v0.7M63.59 421.27v-0.7M63.59 345.12v0.7M64.45 421.27v-0.7M64.45 345.12v0.7M65.21 421.27v-0.7M65.21 345.12v0.7M70.35 421.27v-0.7M70.35 345.12v0.7M72.96 421.27v-0.7M72.96 345.12v0.7M74.81 421.27v-0.7M74.81 345.12v0.7M76.25 421.27v-0.7M76.25 345.12v0.7M77.42 421.27v-0.7M77.42 345.12v0.7M78.42 421.27v-0.7M78.42 345.12v0.7M79.28 421.27v-0.7M79.28 345.12v0.7M80.04 421.27v-0.7M80.04 345.12v0.7M85.18 421.27v-0.7M85.18 345.12v0.7M87.79 421.27v-0.7M87.79 345.12v0.7M89.64 421.27v-0.7M89.64 345.12v0.7M91.08 421.27v-0.7M91.08 345.12v0.7M92.25 421.27v-0.7M92.25 345.12v0.7M93.25 421.27v-0.7M93.25 345.12v0.7M94.11 421.27v-0.7M94.11 345.12v0.7M94.86 421.27v-0.7M94.86 345.12v0.7M100.01 421.27v-0.7M100.01 345.12v0.7M102.62 421.27v-0.7M102.62 345.12v0.7M104.47 421.27v-0.7M104.47 345.12v0.7M105.91 421.27v-0.7M105.91 345.12v0.7M107.08 421.27v-0.7M107.08 345.12v0.7M108.07 421.27v-0.7M108.07 345.12v0.7M108.93 421.27v-0.7M108.93 345.12v0.7M109.69 421.27v-0.7M109.69 345.12v0.7M114.84 421.27v-0.7M114.84 345.12v0.7M117.45 421.27v-0.7M117.45 345.12v0.7M119.3 421.27v-0.7M119.3 345.12v0.7M120.74 421.27v-0.7M120.74 345.12v0.7M121.91 421.27v-0.7M121.91 345.12v0.7M122.9 421.27v-0.7M122.9 345.12v0.7M123.76 421.27v-0.7M123.76 345.12v0.7M124.52 421.27v-0.7M124.52 345.12v0.7M21.4 352.73h0.7M21.4 350.81h0.7M21.4 349.45h0.7M21.4 348.4h0.7M21.4 347.54h0.7M21.4 346.81h0.7M21.4 346.18h0.7M21.4 345.62h0.7M21.4 363.61h0.7M21.4 361.69h0.7M21.4 360.33h0.7M21.4 359.28h0.7M21.4 358.42h0.7M21.4 357.69h0.7M21.4 357.06h0.7M21.4 356.5h0.7M21.4 374.49h0.7M21.4 372.57h0.7M21.4 371.21h0.7M21.4 370.16h0.7M21.4 369.3h0.7M21.4 368.57h0.7M21.4 367.94h0.7M21.4 367.38h0.7M21.4 385.36h0.7M21.4 383.45h0.7M21.4 382.09h0.7M21.4 381.04h0.7M21.4 380.17h0.7M21.4 379.45h0.7M21.4 378.81h0.7M21.4 378.26h0.7M21.4 396.24h0.7M21.4 394.33h0.7M21.4 392.97h0.7M21.4 391.91h0.7M21.4 391.05h0.7M21.4 390.32h0.7M21.4 389.69h0.7M21.4 389.14h0.7M21.4 407.12h0.7M21.4 405.21h0.7M21.4 403.85h0.7M21.4 402.79h0.7M21.4 401.93h0.7M21.4 401.2h0.7M21.4 400.57h0.7M21.4 400.02h0.7M21.4 418h0.7M21.4 416.08h0.7M21.4 414.73h0.7M21.4 413.67h0.7M21.4 412.81h0.7M21.4 412.08h0.7M21.4 411.45h0.7M21.4 410.89h0.7" fill="none" stroke="#444" stroke-width="0.35"/>
<path d="M21.4 421.57v-1.5M21.4 344.82v1.5M36.23 421.57v-1.5M36.23 344.82v1.5M51.06 421.57v-1.5M51.06 344.82v1.5M65.89 421.57v-1.5M65.89 344.82v1.5M80.71 421.57v-1.5M80.71 344.82v1.5M95.54 421.57v-1.5M95.54 344.82v1.5M110.37 421.57v-1.5M110.37 344.82v1.5M125.2 421.57v-1.5M125.2 344.82v1.5M21.1 345.12h1.5M21.1 356h1.5M21.1 366.88h1.5M21.1 377.76h1.5M21.1 388.64h1.5M21.1 399.52h1.5M21.1 410.4h1.5M21.1 421.27h1.5" fill="none" stroke="#333" stroke-width="0.55"/>
<path d="M125.5 345.12h-1.5M125.2 348.93h-0.7M125.5 352.74h-1.5M125.2 356.55h-0.7M125.5 360.36h-1.5M125.2 364.16h-0.7M125.5 367.97h-1.5M125.2 371.78h-0.7M125.5 375.58h-1.5M125.2 379.39h-0.7M125.5 383.2h-1.5M125.2 387.01h-0.7M125.5 390.81h-1.5M125.2 394.62h-0.7M125.5 398.43h-1.5M125.2 402.24h-0.7M125.5 406.04h-1.5M125.2 409.85h-0.7M125.5 413.66h-1.5M125.2 417.47h-0.7M125.5 421.27h-1.5" fill="none" stroke="#4444ff" stroke-width="0.5"/>
<g fill="#444" stroke="#444" stroke-width="0.06"><text x="18.9" y="346.32" text-anchor="end" font-size="3.1">10<tspan font-size="2.11" dy="-1.5">11</tspan></text><text x="18.9" y="357.2" text-anchor="end" font-size="3.1">10<tspan font-size="2.11" dy="-1.5">10</tspan></text><text x="18.9" y="368.08" text-anchor="end" font-size="3.1">10<tspan font-size="2.11" dy="-1.5">9</tspan></text><text x="18.9" y="378.96" text-anchor="end" font-size="3.1">10<tspan font-size="2.11" dy="-1.5">8</tspan></text><text x="18.9" y="389.84" text-anchor="end" font-size="3.1">10<tspan font-size="2.11" dy="-1.5">7</tspan></text><text x="18.9" y="400.72" text-anchor="end" font-size="3.1">10<tspan font-size="2.11" dy="-1.5">6</tspan></text><text x="18.9" y="411.6" text-anchor="end" font-size="3.1">10<tspan font-size="2.11" dy="-1.5">5</tspan></text><text x="18.9" y="422.47" text-anchor="end" font-size="3.1">10<tspan font-size="2.11" dy="-1.5">4</tspan></text><text x="21.4" y="427.07" text-anchor="middle" font-size="3.1">10<tspan font-size="2.11" dy="-1.5">-2</tspan></text><text x="36.23" y="427.07" text-anchor="middle" font-size="3.1">10<tspan font-size="2.11" dy="-1.5">-1</tspan></text><text x="51.06" y="427.07" text-anchor="middle" font-size="3.1">10<tspan font-size="2.11" dy="-1.5">0</tspan></text><text x="65.89" y="427.07" text-anchor="middle" font-size="3.1">10<tspan font-size="2.11" dy="-1.5">1</tspan></text><text x="80.71" y="427.07" text-anchor="middle" font-size="3.1">10<tspan font-size="2.11" dy="-1.5">2</tspan></text><text x="95.54" y="427.07" text-anchor="middle" font-size="3.1">10<tspan font-size="2.11" dy="-1.5">3</tspan></text><text x="110.37" y="427.07" text-anchor="middle" font-size="3.1">10<tspan font-size="2.11" dy="-1.5">4</tspan></text><text x="125.2" y="427.07" text-anchor="middle" font-size="3.1">10<tspan font-size="2.11" dy="-1.5">5</tspan></text></g>
<g fill="#2222ee" stroke="#2222ee" stroke-width="0.1"><text x="127.8" y="346.27" font-size="3.1">100</text><text x="127.8" y="353.89" font-size="3.1">90</text><text x="127.8" y="361.5" font-size="3.1">80</text><text x="127.8" y="369.12" font-size="3.1">70</text><text x="127.8" y="376.73" font-size="3.1">60</text><text x="127.8" y="384.35" font-size="3.1">50</text><text x="127.8" y="391.96" font-size="3.1">40</text><text x="127.8" y="399.58" font-size="3.1">30</text><text x="127.8" y="407.19" font-size="3.1">20</text><text x="127.8" y="414.81" font-size="3.1">10</text><text x="127.8" y="422.42" font-size="3.1">0</text></g>
<text x="73.2" y="342.88" text-anchor="middle" font-size="4.1" fill="#111" stroke="#111" stroke-width="0.13">2250 h</text>
<text x="73.3" y="434.07" text-anchor="middle" font-size="4.3" fill="#111" stroke="#111" stroke-width="0.13">Freq. [Hz]</text>
<text transform="translate(8.1 386.4) rotate(-90)" text-anchor="middle" font-size="4.2" fill="#111" stroke="#111" stroke-width="0.13">|Z| [ohm·cm<tspan font-size="2.9" dy="-1.4">2</tspan><tspan dy="1.4">]</tspan></text>
<text transform="translate(138.3 385.5) rotate(-90)" text-anchor="middle" font-size="4.1" fill="#111" stroke="#111" stroke-width="0.13">- Phase [°]</text>
<polyline fill="none" stroke="#777" stroke-width="0.55" points="181.2,398.2 184.13,398 187.07,398.22 190,398.41 192.94,398.7 195.87,398.85 198.81,399 201.74,399.05 204.67,399.1 207.61,399.1 210.54,399.1 213.48,399.1 216.41,399.1 219.35,399.15 222.28,399.2 225.21,399.39 228.15,399.69 231.08,399.7 234.02,399.98 236.95,400.09 239.89,400.39 242.82,401.08 245.75,402.24 248.69,403.36 251.62,405.13 254.56,406.81 257.49,408.73 260.43,410.47 263.36,412.22 266.29,414.1 269.23,415.87 272.16,417.59 275.1,419.06 278.03,420.22"/>
<path d="M180.35 397.35h1.7v1.7h-1.7zM183.28 397.15h1.7v1.7h-1.7zM186.22 397.37h1.7v1.7h-1.7zM189.15 397.56h1.7v1.7h-1.7zM192.09 397.85h1.7v1.7h-1.7zM195.02 398h1.7v1.7h-1.7zM197.96 398.15h1.7v1.7h-1.7zM200.89 398.2h1.7v1.7h-1.7zM203.82 398.25h1.7v1.7h-1.7zM206.76 398.25h1.7v1.7h-1.7zM209.69 398.25h1.7v1.7h-1.7zM212.63 398.25h1.7v1.7h-1.7zM215.56 398.25h1.7v1.7h-1.7zM218.5 398.3h1.7v1.7h-1.7zM221.43 398.35h1.7v1.7h-1.7zM224.36 398.54h1.7v1.7h-1.7zM227.3 398.84h1.7v1.7h-1.7zM230.23 398.85h1.7v1.7h-1.7zM233.17 399.13h1.7v1.7h-1.7zM236.1 399.24h1.7v1.7h-1.7zM239.04 399.54h1.7v1.7h-1.7zM241.97 400.23h1.7v1.7h-1.7zM244.9 401.39h1.7v1.7h-1.7zM247.84 402.51h1.7v1.7h-1.7zM250.77 404.28h1.7v1.7h-1.7zM253.71 405.96h1.7v1.7h-1.7zM256.64 407.88h1.7v1.7h-1.7zM259.58 409.62h1.7v1.7h-1.7zM262.51 411.37h1.7v1.7h-1.7zM265.44 413.25h1.7v1.7h-1.7zM268.38 415.02h1.7v1.7h-1.7zM271.31 416.74h1.7v1.7h-1.7zM274.25 418.21h1.7v1.7h-1.7zM277.18 419.37h1.7v1.7h-1.7z" fill="#000"/>
<polyline fill="none" stroke="#8c8cff" stroke-width="0.65" points="181.2,414.7 184.13,415 187.07,415.07 190,415.83 192.94,416.6 195.87,416.65 198.81,416.72 201.74,417.2 204.67,417.5 207.61,417.8 210.54,417.8 213.48,417.8 216.41,417.51 219.35,417.19 222.28,416.72 225.21,415.76 228.15,414.72 231.08,413.07 234.02,410.65 236.95,406.56 239.89,400.64 242.82,393.11 245.75,385.38 248.69,378.08 251.62,373.48 254.56,370.08 257.49,367.89 260.43,366.87 263.36,366.7 266.29,367.41 269.23,368.8 272.16,371.14 275.1,374.49 278.03,379.04 280.97,383.2 283.9,386.59"/>
<path d="M180.2 413.7h2v2h-2zM183.13 414h2v2h-2zM186.07 414.07h2v2h-2zM189 414.83h2v2h-2zM191.94 415.6h2v2h-2zM194.87 415.65h2v2h-2zM197.81 415.72h2v2h-2zM200.74 416.2h2v2h-2zM203.67 416.5h2v2h-2zM206.61 416.8h2v2h-2zM209.54 416.8h2v2h-2zM212.48 416.8h2v2h-2zM215.41 416.51h2v2h-2zM218.35 416.19h2v2h-2zM221.28 415.72h2v2h-2zM224.21 414.76h2v2h-2zM227.15 413.72h2v2h-2zM230.08 412.07h2v2h-2zM233.02 409.65h2v2h-2zM235.95 405.56h2v2h-2zM238.89 399.64h2v2h-2zM241.82 392.11h2v2h-2zM244.75 384.38h2v2h-2zM247.69 377.08h2v2h-2zM250.62 372.48h2v2h-2zM253.56 369.08h2v2h-2zM256.49 366.89h2v2h-2zM259.43 365.87h2v2h-2zM262.36 365.7h2v2h-2zM265.29 366.41h2v2h-2zM268.23 367.8h2v2h-2zM271.16 370.14h2v2h-2zM274.1 373.49h2v2h-2zM277.03 378.04h2v2h-2zM279.97 382.2h2v2h-2zM282.9 385.59h2v2h-2z" fill="#0000ee"/>
<path d="M180.5 420.48V344.32H284.3M180.5 420.48H284.3" fill="none" stroke="#4a4a4a" stroke-width="0.5"/>
<path d="M284.3 344.32V420.48" fill="none" stroke="#5555ff" stroke-width="0.5"/>
<path d="M184.96 420.48v-0.7M184.96 344.32v0.7M187.58 420.48v-0.7M187.58 344.32v0.7M189.43 420.48v-0.7M189.43 344.32v0.7M190.86 420.48v-0.7M190.86 344.32v0.7M192.04 420.48v-0.7M192.04 344.32v0.7M193.03 420.48v-0.7M193.03 344.32v0.7M193.89 420.48v-0.7M193.89 344.32v0.7M194.65 420.48v-0.7M194.65 344.32v0.7M199.79 420.48v-0.7M199.79 344.32v0.7M202.4 420.48v-0.7M202.4 344.32v0.7M204.26 420.48v-0.7M204.26 344.32v0.7M205.69 420.48v-0.7M205.69 344.32v0.7M206.87 420.48v-0.7M206.87 344.32v0.7M207.86 420.48v-0.7M207.86 344.32v0.7M208.72 420.48v-0.7M208.72 344.32v0.7M209.48 420.48v-0.7M209.48 344.32v0.7M214.62 420.48v-0.7M214.62 344.32v0.7M217.23 420.48v-0.7M217.23 344.32v0.7M219.08 420.48v-0.7M219.08 344.32v0.7M220.52 420.48v-0.7M220.52 344.32v0.7M221.7 420.48v-0.7M221.7 344.32v0.7M222.69 420.48v-0.7M222.69 344.32v0.7M223.55 420.48v-0.7M223.55 344.32v0.7M224.31 420.48v-0.7M224.31 344.32v0.7M229.45 420.48v-0.7M229.45 344.32v0.7M232.06 420.48v-0.7M232.06 344.32v0.7M233.91 420.48v-0.7M233.91 344.32v0.7M235.35 420.48v-0.7M235.35 344.32v0.7M236.52 420.48v-0.7M236.52 344.32v0.7M237.52 420.48v-0.7M237.52 344.32v0.7M238.38 420.48v-0.7M238.38 344.32v0.7M239.14 420.48v-0.7M239.14 344.32v0.7M244.28 420.48v-0.7M244.28 344.32v0.7M246.89 420.48v-0.7M246.89 344.32v0.7M248.74 420.48v-0.7M248.74 344.32v0.7M250.18 420.48v-0.7M250.18 344.32v0.7M251.35 420.48v-0.7M251.35 344.32v0.7M252.35 420.48v-0.7M252.35 344.32v0.7M253.21 420.48v-0.7M253.21 344.32v0.7M253.96 420.48v-0.7M253.96 344.32v0.7M259.11 420.48v-0.7M259.11 344.32v0.7M261.72 420.48v-0.7M261.72 344.32v0.7M263.57 420.48v-0.7M263.57 344.32v0.7M265.01 420.48v-0.7M265.01 344.32v0.7M266.18 420.48v-0.7M266.18 344.32v0.7M267.17 420.48v-0.7M267.17 344.32v0.7M268.03 420.48v-0.7M268.03 344.32v0.7M268.79 420.48v-0.7M268.79 344.32v0.7M273.94 420.48v-0.7M273.94 344.32v0.7M276.55 420.48v-0.7M276.55 344.32v0.7M278.4 420.48v-0.7M278.4 344.32v0.7M279.84 420.48v-0.7M279.84 344.32v0.7M281.01 420.48v-0.7M281.01 344.32v0.7M282 420.48v-0.7M282 344.32v0.7M282.86 420.48v-0.7M282.86 344.32v0.7M283.62 420.48v-0.7M283.62 344.32v0.7M180.5 351.93h0.7M180.5 350.01h0.7M180.5 348.65h0.7M180.5 347.6h0.7M180.5 346.74h0.7M180.5 346.01h0.7M180.5 345.38h0.7M180.5 344.82h0.7M180.5 362.81h0.7M180.5 360.89h0.7M180.5 359.53h0.7M180.5 358.48h0.7M180.5 357.62h0.7M180.5 356.89h0.7M180.5 356.26h0.7M180.5 355.7h0.7M180.5 373.69h0.7M180.5 371.77h0.7M180.5 370.41h0.7M180.5 369.36h0.7M180.5 368.5h0.7M180.5 367.77h0.7M180.5 367.14h0.7M180.5 366.58h0.7M180.5 384.56h0.7M180.5 382.65h0.7M180.5 381.29h0.7M180.5 380.24h0.7M180.5 379.37h0.7M180.5 378.65h0.7M180.5 378.01h0.7M180.5 377.46h0.7M180.5 395.44h0.7M180.5 393.53h0.7M180.5 392.17h0.7M180.5 391.11h0.7M180.5 390.25h0.7M180.5 389.52h0.7M180.5 388.89h0.7M180.5 388.34h0.7M180.5 406.32h0.7M180.5 404.41h0.7M180.5 403.05h0.7M180.5 401.99h0.7M180.5 401.13h0.7M180.5 400.4h0.7M180.5 399.77h0.7M180.5 399.22h0.7M180.5 417.2h0.7M180.5 415.28h0.7M180.5 413.93h0.7M180.5 412.87h0.7M180.5 412.01h0.7M180.5 411.28h0.7M180.5 410.65h0.7M180.5 410.09h0.7" fill="none" stroke="#444" stroke-width="0.35"/>
<path d="M180.5 420.78v-1.5M180.5 344.02v1.5M195.33 420.78v-1.5M195.33 344.02v1.5M210.16 420.78v-1.5M210.16 344.02v1.5M224.99 420.78v-1.5M224.99 344.02v1.5M239.81 420.78v-1.5M239.81 344.02v1.5M254.64 420.78v-1.5M254.64 344.02v1.5M269.47 420.78v-1.5M269.47 344.02v1.5M284.3 420.78v-1.5M284.3 344.02v1.5M180.2 344.32h1.5M180.2 355.2h1.5M180.2 366.08h1.5M180.2 376.96h1.5M180.2 387.84h1.5M180.2 398.72h1.5M180.2 409.6h1.5M180.2 420.48h1.5" fill="none" stroke="#333" stroke-width="0.55"/>
<path d="M284.6 344.32h-1.5M284.3 348.13h-0.7M284.6 351.94h-1.5M284.3 355.75h-0.7M284.6 359.56h-1.5M284.3 363.36h-0.7M284.6 367.17h-1.5M284.3 370.98h-0.7M284.6 374.79h-1.5M284.3 378.59h-0.7M284.6 382.4h-1.5M284.3 386.21h-0.7M284.6 390.01h-1.5M284.3 393.82h-0.7M284.6 397.63h-1.5M284.3 401.44h-0.7M284.6 405.25h-1.5M284.3 409.05h-0.7M284.6 412.86h-1.5M284.3 416.67h-0.7M284.6 420.48h-1.5" fill="none" stroke="#4444ff" stroke-width="0.5"/>
<g fill="#444" stroke="#444" stroke-width="0.06"><text x="178" y="345.52" text-anchor="end" font-size="3.1">10<tspan font-size="2.11" dy="-1.5">11</tspan></text><text x="178" y="356.4" text-anchor="end" font-size="3.1">10<tspan font-size="2.11" dy="-1.5">10</tspan></text><text x="178" y="367.28" text-anchor="end" font-size="3.1">10<tspan font-size="2.11" dy="-1.5">9</tspan></text><text x="178" y="378.16" text-anchor="end" font-size="3.1">10<tspan font-size="2.11" dy="-1.5">8</tspan></text><text x="178" y="389.04" text-anchor="end" font-size="3.1">10<tspan font-size="2.11" dy="-1.5">7</tspan></text><text x="178" y="399.92" text-anchor="end" font-size="3.1">10<tspan font-size="2.11" dy="-1.5">6</tspan></text><text x="178" y="410.8" text-anchor="end" font-size="3.1">10<tspan font-size="2.11" dy="-1.5">5</tspan></text><text x="178" y="421.68" text-anchor="end" font-size="3.1">10<tspan font-size="2.11" dy="-1.5">4</tspan></text><text x="180.5" y="426.28" text-anchor="middle" font-size="3.1">10<tspan font-size="2.11" dy="-1.5">-2</tspan></text><text x="195.33" y="426.28" text-anchor="middle" font-size="3.1">10<tspan font-size="2.11" dy="-1.5">-1</tspan></text><text x="210.16" y="426.28" text-anchor="middle" font-size="3.1">10<tspan font-size="2.11" dy="-1.5">0</tspan></text><text x="224.99" y="426.28" text-anchor="middle" font-size="3.1">10<tspan font-size="2.11" dy="-1.5">1</tspan></text><text x="239.81" y="426.28" text-anchor="middle" font-size="3.1">10<tspan font-size="2.11" dy="-1.5">2</tspan></text><text x="254.64" y="426.28" text-anchor="middle" font-size="3.1">10<tspan font-size="2.11" dy="-1.5">3</tspan></text><text x="269.47" y="426.28" text-anchor="middle" font-size="3.1">10<tspan font-size="2.11" dy="-1.5">4</tspan></text><text x="284.3" y="426.28" text-anchor="middle" font-size="3.1">10<tspan font-size="2.11" dy="-1.5">5</tspan></text></g>
<g fill="#2222ee" stroke="#2222ee" stroke-width="0.1"><text x="286.9" y="345.47" font-size="3.1">100</text><text x="286.9" y="353.09" font-size="3.1">90</text><text x="286.9" y="360.7" font-size="3.1">80</text><text x="286.9" y="368.32" font-size="3.1">70</text><text x="286.9" y="375.94" font-size="3.1">60</text><text x="286.9" y="383.55" font-size="3.1">50</text><text x="286.9" y="391.16" font-size="3.1">40</text><text x="286.9" y="398.78" font-size="3.1">30</text><text x="286.9" y="406.39" font-size="3.1">20</text><text x="286.9" y="414.01" font-size="3.1">10</text><text x="286.9" y="421.62" font-size="3.1">0</text></g>
<text x="231.9" y="341.88" text-anchor="middle" font-size="4.1" fill="#111" stroke="#111" stroke-width="0.13">2500 h</text>
<text x="232.4" y="433.28" text-anchor="middle" font-size="4.3" fill="#111" stroke="#111" stroke-width="0.13">Time [hours]</text>
<text transform="translate(167.2 385.6) rotate(-90)" text-anchor="middle" font-size="4.2" fill="#111" stroke="#111" stroke-width="0.13">|Z| [ohm·cm<tspan font-size="2.9" dy="-1.4">2</tspan><tspan dy="1.4">]</tspan></text>
<text transform="translate(297.4 384.7) rotate(-90)" text-anchor="middle" font-size="4.1" fill="#111" stroke="#111" stroke-width="0.13">- Phase [°]</text>
<polyline fill="none" stroke="#777" stroke-width="0.55" points="333.3,392.9 336.23,392.9 339.17,392.9 342.1,392.5 345.04,393.4 347.97,393.6 350.91,393.1 353.84,393.6 356.77,393.4 359.71,393.4 362.64,393.4 365.58,393.4 368.51,393.42 371.45,393.91 374.38,394.32 377.31,394.5 380.25,394.79 383.18,395.12 386.12,395.68 389.05,396.62 391.99,397.95 394.92,399.13 397.85,400.66 400.79,402.59 403.72,404.16 406.66,405.91 409.59,407.26 412.53,408.76 415.46,410.14 418.39,411.73 421.33,413.17 424.26,414.63 427.2,416.41 430.13,418.13 433.07,419.9 436,421.5"/>
<path d="M332.45 392.05h1.7v1.7h-1.7zM335.38 392.05h1.7v1.7h-1.7zM338.32 392.05h1.7v1.7h-1.7zM341.25 391.65h1.7v1.7h-1.7zM344.19 392.55h1.7v1.7h-1.7zM347.12 392.75h1.7v1.7h-1.7zM350.06 392.25h1.7v1.7h-1.7zM352.99 392.75h1.7v1.7h-1.7zM355.92 392.55h1.7v1.7h-1.7zM358.86 392.55h1.7v1.7h-1.7zM361.79 392.55h1.7v1.7h-1.7zM364.73 392.55h1.7v1.7h-1.7zM367.66 392.57h1.7v1.7h-1.7zM370.6 393.06h1.7v1.7h-1.7zM373.53 393.47h1.7v1.7h-1.7zM376.46 393.65h1.7v1.7h-1.7zM379.4 393.94h1.7v1.7h-1.7zM382.33 394.27h1.7v1.7h-1.7zM385.27 394.83h1.7v1.7h-1.7zM388.2 395.77h1.7v1.7h-1.7zM391.14 397.1h1.7v1.7h-1.7zM394.07 398.28h1.7v1.7h-1.7zM397 399.81h1.7v1.7h-1.7zM399.94 401.74h1.7v1.7h-1.7zM402.87 403.31h1.7v1.7h-1.7zM405.81 405.06h1.7v1.7h-1.7zM408.74 406.41h1.7v1.7h-1.7zM411.68 407.91h1.7v1.7h-1.7zM414.61 409.29h1.7v1.7h-1.7zM417.54 410.88h1.7v1.7h-1.7zM420.48 412.32h1.7v1.7h-1.7zM423.41 413.78h1.7v1.7h-1.7zM426.35 415.56h1.7v1.7h-1.7zM429.28 417.28h1.7v1.7h-1.7zM432.22 419.05h1.7v1.7h-1.7zM435.15 420.65h1.7v1.7h-1.7z" fill="#000"/>
<polyline fill="none" stroke="#8c8cff" stroke-width="0.65" points="333.3,418.9 336.23,418.9 339.17,418.9 342.1,413.4 345.04,418.9 347.97,418.7 350.91,418.5 353.84,419.8 356.77,419.4 359.71,419.5 362.64,419.4 365.58,418.7 368.51,417.68 371.45,416.08 374.38,414.65 377.31,411.98 380.25,407.58 383.18,400.7 386.12,393.7 389.05,385.87 391.99,379.64 394.92,375.92 397.85,373.92 400.79,373.16 403.72,373.28 406.66,373.87 409.59,374.53 412.53,374.42 415.46,373.6 418.39,372.52 421.33,371.13 424.26,369.31 427.2,367.4 430.13,365.25 433.07,363.05 436,360.59"/>
<path d="M332.3 417.9h2v2h-2zM335.23 417.9h2v2h-2zM338.17 417.9h2v2h-2zM341.1 412.4h2v2h-2zM344.04 417.9h2v2h-2zM346.97 417.7h2v2h-2zM349.91 417.5h2v2h-2zM352.84 418.8h2v2h-2zM355.77 418.4h2v2h-2zM358.71 418.5h2v2h-2zM361.64 418.4h2v2h-2zM364.58 417.7h2v2h-2zM367.51 416.68h2v2h-2zM370.45 415.08h2v2h-2zM373.38 413.65h2v2h-2zM376.31 410.98h2v2h-2zM379.25 406.58h2v2h-2zM382.18 399.7h2v2h-2zM385.12 392.7h2v2h-2zM388.05 384.87h2v2h-2zM390.99 378.64h2v2h-2zM393.92 374.92h2v2h-2zM396.85 372.92h2v2h-2zM399.79 372.16h2v2h-2zM402.72 372.28h2v2h-2zM405.66 372.87h2v2h-2zM408.59 373.53h2v2h-2zM411.53 373.42h2v2h-2zM414.46 372.6h2v2h-2zM417.39 371.52h2v2h-2zM420.33 370.13h2v2h-2zM423.26 368.31h2v2h-2zM426.2 366.4h2v2h-2zM429.13 364.25h2v2h-2zM432.07 362.05h2v2h-2zM435 359.59h2v2h-2z" fill="#0000ee"/>
<path d="M332.6 421.57V345.43H436.4M332.6 421.57H436.4" fill="none" stroke="#4a4a4a" stroke-width="0.5"/>
<path d="M436.4 345.43V421.57" fill="none" stroke="#5555ff" stroke-width="0.5"/>
<path d="M337.06 421.57v-0.7M337.06 345.43v0.7M339.68 421.57v-0.7M339.68 345.43v0.7M341.53 421.57v-0.7M341.53 345.43v0.7M342.96 421.57v-0.7M342.96 345.43v0.7M344.14 421.57v-0.7M344.14 345.43v0.7M345.13 421.57v-0.7M345.13 345.43v0.7M345.99 421.57v-0.7M345.99 345.43v0.7M346.75 421.57v-0.7M346.75 345.43v0.7M351.89 421.57v-0.7M351.89 345.43v0.7M354.5 421.57v-0.7M354.5 345.43v0.7M356.36 421.57v-0.7M356.36 345.43v0.7M357.79 421.57v-0.7M357.79 345.43v0.7M358.97 421.57v-0.7M358.97 345.43v0.7M359.96 421.57v-0.7M359.96 345.43v0.7M360.82 421.57v-0.7M360.82 345.43v0.7M361.58 421.57v-0.7M361.58 345.43v0.7M366.72 421.57v-0.7M366.72 345.43v0.7M369.33 421.57v-0.7M369.33 345.43v0.7M371.18 421.57v-0.7M371.18 345.43v0.7M372.62 421.57v-0.7M372.62 345.43v0.7M373.8 421.57v-0.7M373.8 345.43v0.7M374.79 421.57v-0.7M374.79 345.43v0.7M375.65 421.57v-0.7M375.65 345.43v0.7M376.41 421.57v-0.7M376.41 345.43v0.7M381.55 421.57v-0.7M381.55 345.43v0.7M384.16 421.57v-0.7M384.16 345.43v0.7M386.01 421.57v-0.7M386.01 345.43v0.7M387.45 421.57v-0.7M387.45 345.43v0.7M388.62 421.57v-0.7M388.62 345.43v0.7M389.62 421.57v-0.7M389.62 345.43v0.7M390.48 421.57v-0.7M390.48 345.43v0.7M391.24 421.57v-0.7M391.24 345.43v0.7M396.38 421.57v-0.7M396.38 345.43v0.7M398.99 421.57v-0.7M398.99 345.43v0.7M400.84 421.57v-0.7M400.84 345.43v0.7M402.28 421.57v-0.7M402.28 345.43v0.7M403.45 421.57v-0.7M403.45 345.43v0.7M404.45 421.57v-0.7M404.45 345.43v0.7M405.31 421.57v-0.7M405.31 345.43v0.7M406.06 421.57v-0.7M406.06 345.43v0.7M411.21 421.57v-0.7M411.21 345.43v0.7M413.82 421.57v-0.7M413.82 345.43v0.7M415.67 421.57v-0.7M415.67 345.43v0.7M417.11 421.57v-0.7M417.11 345.43v0.7M418.28 421.57v-0.7M418.28 345.43v0.7M419.27 421.57v-0.7M419.27 345.43v0.7M420.13 421.57v-0.7M420.13 345.43v0.7M420.89 421.57v-0.7M420.89 345.43v0.7M426.04 421.57v-0.7M426.04 345.43v0.7M428.65 421.57v-0.7M428.65 345.43v0.7M430.5 421.57v-0.7M430.5 345.43v0.7M431.94 421.57v-0.7M431.94 345.43v0.7M433.11 421.57v-0.7M433.11 345.43v0.7M434.1 421.57v-0.7M434.1 345.43v0.7M434.96 421.57v-0.7M434.96 345.43v0.7M435.72 421.57v-0.7M435.72 345.43v0.7M332.6 353.03h0.7M332.6 351.11h0.7M332.6 349.75h0.7M332.6 348.7h0.7M332.6 347.84h0.7M332.6 347.11h0.7M332.6 346.48h0.7M332.6 345.92h0.7M332.6 363.91h0.7M332.6 361.99h0.7M332.6 360.63h0.7M332.6 359.58h0.7M332.6 358.72h0.7M332.6 357.99h0.7M332.6 357.36h0.7M332.6 356.8h0.7M332.6 374.79h0.7M332.6 372.87h0.7M332.6 371.51h0.7M332.6 370.46h0.7M332.6 369.6h0.7M332.6 368.87h0.7M332.6 368.24h0.7M332.6 367.68h0.7M332.6 385.66h0.7M332.6 383.75h0.7M332.6 382.39h0.7M332.6 381.34h0.7M332.6 380.47h0.7M332.6 379.75h0.7M332.6 379.11h0.7M332.6 378.56h0.7M332.6 396.54h0.7M332.6 394.63h0.7M332.6 393.27h0.7M332.6 392.21h0.7M332.6 391.35h0.7M332.6 390.62h0.7M332.6 389.99h0.7M332.6 389.44h0.7M332.6 407.42h0.7M332.6 405.51h0.7M332.6 404.15h0.7M332.6 403.09h0.7M332.6 402.23h0.7M332.6 401.5h0.7M332.6 400.87h0.7M332.6 400.32h0.7M332.6 418.3h0.7M332.6 416.38h0.7M332.6 415.03h0.7M332.6 413.97h0.7M332.6 413.11h0.7M332.6 412.38h0.7M332.6 411.75h0.7M332.6 411.19h0.7" fill="none" stroke="#444" stroke-width="0.35"/>
<path d="M332.6 421.88v-1.5M332.6 345.12v1.5M347.43 421.88v-1.5M347.43 345.12v1.5M362.26 421.88v-1.5M362.26 345.12v1.5M377.09 421.88v-1.5M377.09 345.12v1.5M391.91 421.88v-1.5M391.91 345.12v1.5M406.74 421.88v-1.5M406.74 345.12v1.5M421.57 421.88v-1.5M421.57 345.12v1.5M436.4 421.88v-1.5M436.4 345.12v1.5M332.3 345.43h1.5M332.3 356.3h1.5M332.3 367.18h1.5M332.3 378.06h1.5M332.3 388.94h1.5M332.3 399.82h1.5M332.3 410.7h1.5M332.3 421.57h1.5" fill="none" stroke="#333" stroke-width="0.55"/>
<path d="M436.7 345.43h-1.5M436.4 349.23h-0.7M436.7 353.04h-1.5M436.4 356.85h-0.7M436.7 360.66h-1.5M436.4 364.46h-0.7M436.7 368.27h-1.5M436.4 372.08h-0.7M436.7 375.88h-1.5M436.4 379.69h-0.7M436.7 383.5h-1.5M436.4 387.31h-0.7M436.7 391.12h-1.5M436.4 394.92h-0.7M436.7 398.73h-1.5M436.4 402.54h-0.7M436.7 406.34h-1.5M436.4 410.15h-0.7M436.7 413.96h-1.5M436.4 417.77h-0.7M436.7 421.57h-1.5" fill="none" stroke="#4444ff" stroke-width="0.5"/>
<g fill="#444" stroke="#444" stroke-width="0.06"><text x="330.1" y="346.62" text-anchor="end" font-size="3.1">10<tspan font-size="2.11" dy="-1.5">11</tspan></text><text x="330.1" y="357.5" text-anchor="end" font-size="3.1">10<tspan font-size="2.11" dy="-1.5">10</tspan></text><text x="330.1" y="368.38" text-anchor="end" font-size="3.1">10<tspan font-size="2.11" dy="-1.5">9</tspan></text><text x="330.1" y="379.26" text-anchor="end" font-size="3.1">10<tspan font-size="2.11" dy="-1.5">8</tspan></text><text x="330.1" y="390.14" text-anchor="end" font-size="3.1">10<tspan font-size="2.11" dy="-1.5">7</tspan></text><text x="330.1" y="401.02" text-anchor="end" font-size="3.1">10<tspan font-size="2.11" dy="-1.5">6</tspan></text><text x="330.1" y="411.9" text-anchor="end" font-size="3.1">10<tspan font-size="2.11" dy="-1.5">5</tspan></text><text x="330.1" y="422.77" text-anchor="end" font-size="3.1">10<tspan font-size="2.11" dy="-1.5">4</tspan></text><text x="332.6" y="427.38" text-anchor="middle" font-size="3.1">10<tspan font-size="2.11" dy="-1.5">-2</tspan></text><text x="347.43" y="427.38" text-anchor="middle" font-size="3.1">10<tspan font-size="2.11" dy="-1.5">-1</tspan></text><text x="362.26" y="427.38" text-anchor="middle" font-size="3.1">10<tspan font-size="2.11" dy="-1.5">0</tspan></text><text x="377.09" y="427.38" text-anchor="middle" font-size="3.1">10<tspan font-size="2.11" dy="-1.5">1</tspan></text><text x="391.91" y="427.38" text-anchor="middle" font-size="3.1">10<tspan font-size="2.11" dy="-1.5">2</tspan></text><text x="406.74" y="427.38" text-anchor="middle" font-size="3.1">10<tspan font-size="2.11" dy="-1.5">3</tspan></text><text x="421.57" y="427.38" text-anchor="middle" font-size="3.1">10<tspan font-size="2.11" dy="-1.5">4</tspan></text><text x="436.4" y="427.38" text-anchor="middle" font-size="3.1">10<tspan font-size="2.11" dy="-1.5">5</tspan></text></g>
<g fill="#2222ee" stroke="#2222ee" stroke-width="0.1"><text x="439" y="346.57" font-size="3.1">100</text><text x="439" y="354.19" font-size="3.1">90</text><text x="439" y="361.81" font-size="3.1">80</text><text x="439" y="369.42" font-size="3.1">70</text><text x="439" y="377.03" font-size="3.1">60</text><text x="439" y="384.65" font-size="3.1">50</text><text x="439" y="392.26" font-size="3.1">40</text><text x="439" y="399.88" font-size="3.1">30</text><text x="439" y="407.49" font-size="3.1">20</text><text x="439" y="415.11" font-size="3.1">10</text><text x="439" y="422.72" font-size="3.1">0</text></g>
<text x="384.4" y="343.28" text-anchor="middle" font-size="4.1" fill="#111" stroke="#111" stroke-width="0.13">2750 h</text>
<text x="384.5" y="434.38" text-anchor="middle" font-size="4.3" fill="#111" stroke="#111" stroke-width="0.13">Freq. [Hz]</text>
<text transform="translate(319.3 386.7) rotate(-90)" text-anchor="middle" font-size="4.2" fill="#111" stroke="#111" stroke-width="0.13">|Z| [ohm·cm<tspan font-size="2.9" dy="-1.4">2</tspan><tspan dy="1.4">]</tspan></text>
<text transform="translate(449.5 385.8) rotate(-90)" text-anchor="middle" font-size="4.1" fill="#111" stroke="#111" stroke-width="0.13">- Phase [°]</text>
<polyline fill="none" stroke="#777" stroke-width="0.55" points="177.8,514.8 180.73,515.1 183.67,515.51 186.6,515.89 189.54,516.3 192.47,516.68 195.41,516.89 198.34,517.09 201.27,517.48 204.21,517.77 207.14,518.27 210.08,518.66 213.01,518.97 215.95,519.26 218.88,519.48 221.81,519.84 224.75,520.15 227.68,520.36 230.62,520.66 233.55,520.79 236.49,520.9 239.42,521.17 242.35,521.2 245.29,521.47 248.22,521.5 251.16,521.5 254.09,521.89 257.03,522.09 259.96,522.29 262.89,522.67 265.83,523.08 268.76,523.28 271.7,523.84 274.63,524.43 277.57,525.03 280.5,525.9"/>
<path d="M176.95 513.95h1.7v1.7h-1.7zM179.88 514.25h1.7v1.7h-1.7zM182.82 514.66h1.7v1.7h-1.7zM185.75 515.04h1.7v1.7h-1.7zM188.69 515.45h1.7v1.7h-1.7zM191.62 515.83h1.7v1.7h-1.7zM194.56 516.04h1.7v1.7h-1.7zM197.49 516.24h1.7v1.7h-1.7zM200.42 516.63h1.7v1.7h-1.7zM203.36 516.92h1.7v1.7h-1.7zM206.29 517.42h1.7v1.7h-1.7zM209.23 517.81h1.7v1.7h-1.7zM212.16 518.12h1.7v1.7h-1.7zM215.1 518.41h1.7v1.7h-1.7zM218.03 518.63h1.7v1.7h-1.7zM220.96 518.99h1.7v1.7h-1.7zM223.9 519.3h1.7v1.7h-1.7zM226.83 519.51h1.7v1.7h-1.7zM229.77 519.81h1.7v1.7h-1.7zM232.7 519.94h1.7v1.7h-1.7zM235.64 520.05h1.7v1.7h-1.7zM238.57 520.32h1.7v1.7h-1.7zM241.5 520.35h1.7v1.7h-1.7zM244.44 520.62h1.7v1.7h-1.7zM247.37 520.65h1.7v1.7h-1.7zM250.31 520.65h1.7v1.7h-1.7zM253.24 521.04h1.7v1.7h-1.7zM256.18 521.24h1.7v1.7h-1.7zM259.11 521.44h1.7v1.7h-1.7zM262.04 521.82h1.7v1.7h-1.7zM264.98 522.23h1.7v1.7h-1.7zM267.91 522.43h1.7v1.7h-1.7zM270.85 522.99h1.7v1.7h-1.7zM273.78 523.58h1.7v1.7h-1.7zM276.72 524.18h1.7v1.7h-1.7zM279.65 525.05h1.7v1.7h-1.7z" fill="#000"/>
<polyline fill="none" stroke="#8c8cff" stroke-width="0.65" points="177.8,517.5 180.73,520.51 183.67,520.71 186.6,521.09 189.54,522.61 192.47,523.37 195.41,523.98 198.34,524.95 201.27,525.48 204.21,526.13 207.14,526.58 210.08,526.96 213.01,527.54 215.95,527.77 218.88,528.15 221.81,528.45 224.75,528.75 227.68,528.72 230.62,528.66 233.55,528.6 236.49,528.31 239.42,527.85 242.35,526.95 245.29,525.82 248.22,524.07 251.16,521.24 254.09,517.28 257.03,512.91 259.96,508.8 262.89,505.99 265.83,504.25 268.76,503.12 271.7,502.07 274.63,500.54 277.57,497.65 280.5,491.9"/>
<path d="M176.8 516.5h2v2h-2zM179.73 519.51h2v2h-2zM182.67 519.71h2v2h-2zM185.6 520.09h2v2h-2zM188.54 521.61h2v2h-2zM191.47 522.37h2v2h-2zM194.41 522.98h2v2h-2zM197.34 523.95h2v2h-2zM200.27 524.48h2v2h-2zM203.21 525.13h2v2h-2zM206.14 525.58h2v2h-2zM209.08 525.96h2v2h-2zM212.01 526.54h2v2h-2zM214.95 526.77h2v2h-2zM217.88 527.15h2v2h-2zM220.81 527.45h2v2h-2zM223.75 527.75h2v2h-2zM226.68 527.72h2v2h-2zM229.62 527.66h2v2h-2zM232.55 527.6h2v2h-2zM235.49 527.31h2v2h-2zM238.42 526.85h2v2h-2zM241.35 525.95h2v2h-2zM244.29 524.82h2v2h-2zM247.22 523.07h2v2h-2zM250.16 520.24h2v2h-2zM253.09 516.28h2v2h-2zM256.03 511.91h2v2h-2zM258.96 507.8h2v2h-2zM261.89 504.99h2v2h-2zM264.83 503.25h2v2h-2zM267.76 502.12h2v2h-2zM270.7 501.07h2v2h-2zM273.63 499.54h2v2h-2zM276.57 496.65h2v2h-2zM279.5 490.9h2v2h-2z" fill="#0000ee"/>
<path d="M177.1 532.27V456.12H280.9M177.1 532.27H280.9" fill="none" stroke="#4a4a4a" stroke-width="0.5"/>
<path d="M280.9 456.12V532.27" fill="none" stroke="#5555ff" stroke-width="0.5"/>
<path d="M181.56 532.27v-0.7M181.56 456.12v0.7M184.18 532.27v-0.7M184.18 456.12v0.7M186.03 532.27v-0.7M186.03 456.12v0.7M187.46 532.27v-0.7M187.46 456.12v0.7M188.64 532.27v-0.7M188.64 456.12v0.7M189.63 532.27v-0.7M189.63 456.12v0.7M190.49 532.27v-0.7M190.49 456.12v0.7M191.25 532.27v-0.7M191.25 456.12v0.7M196.39 532.27v-0.7M196.39 456.12v0.7M199 532.27v-0.7M199 456.12v0.7M200.86 532.27v-0.7M200.86 456.12v0.7M202.29 532.27v-0.7M202.29 456.12v0.7M203.47 532.27v-0.7M203.47 456.12v0.7M204.46 532.27v-0.7M204.46 456.12v0.7M205.32 532.27v-0.7M205.32 456.12v0.7M206.08 532.27v-0.7M206.08 456.12v0.7M211.22 532.27v-0.7M211.22 456.12v0.7M213.83 532.27v-0.7M213.83 456.12v0.7M215.68 532.27v-0.7M215.68 456.12v0.7M217.12 532.27v-0.7M217.12 456.12v0.7M218.3 532.27v-0.7M218.3 456.12v0.7M219.29 532.27v-0.7M219.29 456.12v0.7M220.15 532.27v-0.7M220.15 456.12v0.7M220.91 532.27v-0.7M220.91 456.12v0.7M226.05 532.27v-0.7M226.05 456.12v0.7M228.66 532.27v-0.7M228.66 456.12v0.7M230.51 532.27v-0.7M230.51 456.12v0.7M231.95 532.27v-0.7M231.95 456.12v0.7M233.12 532.27v-0.7M233.12 456.12v0.7M234.12 532.27v-0.7M234.12 456.12v0.7M234.98 532.27v-0.7M234.98 456.12v0.7M235.74 532.27v-0.7M235.74 456.12v0.7M240.88 532.27v-0.7M240.88 456.12v0.7M243.49 532.27v-0.7M243.49 456.12v0.7M245.34 532.27v-0.7M245.34 456.12v0.7M246.78 532.27v-0.7M246.78 456.12v0.7M247.95 532.27v-0.7M247.95 456.12v0.7M248.95 532.27v-0.7M248.95 456.12v0.7M249.81 532.27v-0.7M249.81 456.12v0.7M250.56 532.27v-0.7M250.56 456.12v0.7M255.71 532.27v-0.7M255.71 456.12v0.7M258.32 532.27v-0.7M258.32 456.12v0.7M260.17 532.27v-0.7M260.17 456.12v0.7M261.61 532.27v-0.7M261.61 456.12v0.7M262.78 532.27v-0.7M262.78 456.12v0.7M263.77 532.27v-0.7M263.77 456.12v0.7M264.63 532.27v-0.7M264.63 456.12v0.7M265.39 532.27v-0.7M265.39 456.12v0.7M270.54 532.27v-0.7M270.54 456.12v0.7M273.15 532.27v-0.7M273.15 456.12v0.7M275 532.27v-0.7M275 456.12v0.7M276.44 532.27v-0.7M276.44 456.12v0.7M277.61 532.27v-0.7M277.61 456.12v0.7M278.6 532.27v-0.7M278.6 456.12v0.7M279.46 532.27v-0.7M279.46 456.12v0.7M280.22 532.27v-0.7M280.22 456.12v0.7M177.1 463.73h0.7M177.1 461.81h0.7M177.1 460.45h0.7M177.1 459.4h0.7M177.1 458.54h0.7M177.1 457.81h0.7M177.1 457.18h0.7M177.1 456.62h0.7M177.1 474.61h0.7M177.1 472.69h0.7M177.1 471.33h0.7M177.1 470.28h0.7M177.1 469.42h0.7M177.1 468.69h0.7M177.1 468.06h0.7M177.1 467.5h0.7M177.1 485.49h0.7M177.1 483.57h0.7M177.1 482.21h0.7M177.1 481.16h0.7M177.1 480.3h0.7M177.1 479.57h0.7M177.1 478.94h0.7M177.1 478.38h0.7M177.1 496.36h0.7M177.1 494.45h0.7M177.1 493.09h0.7M177.1 492.04h0.7M177.1 491.17h0.7M177.1 490.45h0.7M177.1 489.81h0.7M177.1 489.26h0.7M177.1 507.24h0.7M177.1 505.33h0.7M177.1 503.97h0.7M177.1 502.91h0.7M177.1 502.05h0.7M177.1 501.32h0.7M177.1 500.69h0.7M177.1 500.14h0.7M177.1 518.12h0.7M177.1 516.21h0.7M177.1 514.85h0.7M177.1 513.79h0.7M177.1 512.93h0.7M177.1 512.2h0.7M177.1 511.57h0.7M177.1 511.02h0.7M177.1 529h0.7M177.1 527.08h0.7M177.1 525.73h0.7M177.1 524.67h0.7M177.1 523.81h0.7M177.1 523.08h0.7M177.1 522.45h0.7M177.1 521.89h0.7" fill="none" stroke="#444" stroke-width="0.35"/>
<path d="M177.1 532.57v-1.5M177.1 455.82v1.5M191.93 532.57v-1.5M191.93 455.82v1.5M206.76 532.57v-1.5M206.76 455.82v1.5M221.59 532.57v-1.5M221.59 455.82v1.5M236.41 532.57v-1.5M236.41 455.82v1.5M251.24 532.57v-1.5M251.24 455.82v1.5M266.07 532.57v-1.5M266.07 455.82v1.5M280.9 532.57v-1.5M280.9 455.82v1.5M176.8 456.12h1.5M176.8 467h1.5M176.8 477.88h1.5M176.8 488.76h1.5M176.8 499.64h1.5M176.8 510.52h1.5M176.8 521.4h1.5M176.8 532.27h1.5" fill="none" stroke="#333" stroke-width="0.55"/>
<path d="M281.2 456.12h-1.5M280.9 459.93h-0.7M281.2 463.74h-1.5M280.9 467.55h-0.7M281.2 471.36h-1.5M280.9 475.16h-0.7M281.2 478.97h-1.5M280.9 482.78h-0.7M281.2 486.58h-1.5M280.9 490.39h-0.7M281.2 494.2h-1.5M280.9 498.01h-0.7M281.2 501.81h-1.5M280.9 505.62h-0.7M281.2 509.43h-1.5M280.9 513.24h-0.7M281.2 517.04h-1.5M280.9 520.85h-0.7M281.2 524.66h-1.5M280.9 528.47h-0.7M281.2 532.27h-1.5" fill="none" stroke="#4444ff" stroke-width="0.5"/>
<g fill="#444" stroke="#444" stroke-width="0.06"><text x="174.6" y="457.32" text-anchor="end" font-size="3.1">10<tspan font-size="2.11" dy="-1.5">11</tspan></text><text x="174.6" y="468.2" text-anchor="end" font-size="3.1">10<tspan font-size="2.11" dy="-1.5">10</tspan></text><text x="174.6" y="479.08" text-anchor="end" font-size="3.1">10<tspan font-size="2.11" dy="-1.5">9</tspan></text><text x="174.6" y="489.96" text-anchor="end" font-size="3.1">10<tspan font-size="2.11" dy="-1.5">8</tspan></text><text x="174.6" y="500.84" text-anchor="end" font-size="3.1">10<tspan font-size="2.11" dy="-1.5">7</tspan></text><text x="174.6" y="511.72" text-anchor="end" font-size="3.1">10<tspan font-size="2.11" dy="-1.5">6</tspan></text><text x="174.6" y="522.6" text-anchor="end" font-size="3.1">10<tspan font-size="2.11" dy="-1.5">5</tspan></text><text x="174.6" y="533.48" text-anchor="end" font-size="3.1">10<tspan font-size="2.11" dy="-1.5">4</tspan></text><text x="177.1" y="538.07" text-anchor="middle" font-size="3.1">10<tspan font-size="2.11" dy="-1.5">-2</tspan></text><text x="191.93" y="538.07" text-anchor="middle" font-size="3.1">10<tspan font-size="2.11" dy="-1.5">-1</tspan></text><text x="206.76" y="538.07" text-anchor="middle" font-size="3.1">10<tspan font-size="2.11" dy="-1.5">0</tspan></text><text x="221.59" y="538.07" text-anchor="middle" font-size="3.1">10<tspan font-size="2.11" dy="-1.5">1</tspan></text><text x="236.41" y="538.07" text-anchor="middle" font-size="3.1">10<tspan font-size="2.11" dy="-1.5">2</tspan></text><text x="251.24" y="538.07" text-anchor="middle" font-size="3.1">10<tspan font-size="2.11" dy="-1.5">3</tspan></text><text x="266.07" y="538.07" text-anchor="middle" font-size="3.1">10<tspan font-size="2.11" dy="-1.5">4</tspan></text><text x="280.9" y="538.07" text-anchor="middle" font-size="3.1">10<tspan font-size="2.11" dy="-1.5">5</tspan></text></g>
<g fill="#2222ee" stroke="#2222ee" stroke-width="0.1"><text x="283.5" y="457.27" font-size="3.1">100</text><text x="283.5" y="464.89" font-size="3.1">90</text><text x="283.5" y="472.5" font-size="3.1">80</text><text x="283.5" y="480.12" font-size="3.1">70</text><text x="283.5" y="487.73" font-size="3.1">60</text><text x="283.5" y="495.35" font-size="3.1">50</text><text x="283.5" y="502.96" font-size="3.1">40</text><text x="283.5" y="510.58" font-size="3.1">30</text><text x="283.5" y="518.19" font-size="3.1">20</text><text x="283.5" y="525.81" font-size="3.1">10</text><text x="283.5" y="533.42" font-size="3.1">0</text></g>
<text x="229" y="453.88" text-anchor="middle" font-size="4.1" fill="#111" stroke="#111" stroke-width="0.13">3000 h</text>
<text x="229" y="545.07" text-anchor="middle" font-size="4.3" fill="#111" stroke="#111" stroke-width="0.13">Freq. [Hz]</text>
<text transform="translate(163.8 497.4) rotate(-90)" text-anchor="middle" font-size="4.2" fill="#111" stroke="#111" stroke-width="0.13">|Z| [ohm·cm<tspan font-size="2.9" dy="-1.4">2</tspan><tspan dy="1.4">]</tspan></text>
<text transform="translate(294 496.5) rotate(-90)" text-anchor="middle" font-size="4.1" fill="#111" stroke="#111" stroke-width="0.13">- Phase [°]</text>
</svg></div></body></html>
